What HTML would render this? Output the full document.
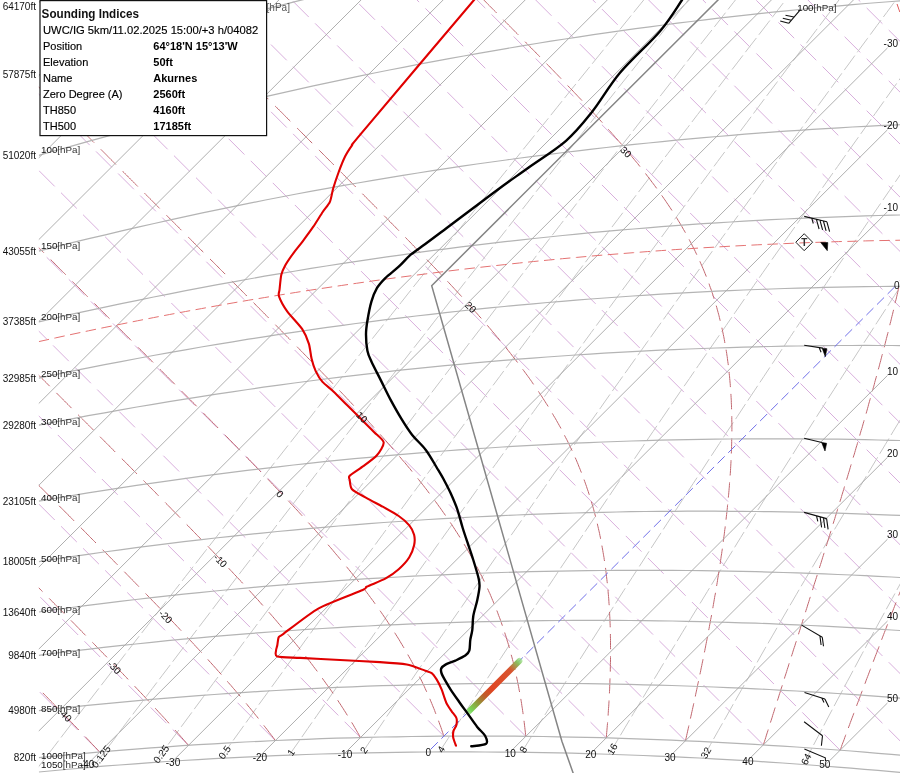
<!DOCTYPE html>
<html><head><meta charset="utf-8"><style>
html,body{margin:0;padding:0;background:#fff;width:900px;height:773px;overflow:hidden}
svg{display:block;font-family:"Liberation Sans",sans-serif;will-change:transform}
</style></head><body>
<svg width="900" height="773" viewBox="0 0 900 773">
<defs><clipPath id="c"><rect x="38.8" y="0" width="870" height="780"/></clipPath><clipPath id="cr"><rect x="38.8" y="0" width="848.7" height="780"/></clipPath><linearGradient id="gr" x1="0" y1="0" x2="1" y2="0"><stop offset="0" stop-color="#8be070" stop-opacity="0.7"/><stop offset="0.07" stop-color="#78d858"/><stop offset="0.2" stop-color="#909a3a"/><stop offset="0.33" stop-color="#c05a2a"/><stop offset="0.45" stop-color="#e04522"/><stop offset="0.8" stop-color="#d85530"/><stop offset="0.93" stop-color="#88c060"/><stop offset="1" stop-color="#90e080" stop-opacity="0.6"/></linearGradient></defs>
<g clip-path="url(#c)">
<g stroke="#d8aedc" stroke-width="1" stroke-dasharray="22.3 8.9"><line x1="-484.8" y1="844.0" x2="-911.6" y2="417.3"/><line x1="-380.0" y1="821.2" x2="-831.4" y2="369.9"/><line x1="-278.5" y1="801.8" x2="-754.5" y2="325.8"/><line x1="-180.0" y1="785.5" x2="-680.7" y2="284.8"/><line x1="-84.3" y1="771.9" x2="-609.7" y2="246.6"/><line x1="8.8" y1="760.8" x2="-541.2" y2="210.9"/><line x1="99.7" y1="752.0" x2="-474.9" y2="177.4"/><line x1="188.5" y1="745.3" x2="-410.8" y2="146.1"/><line x1="275.4" y1="740.6" x2="-348.6" y2="116.7"/><line x1="360.4" y1="737.5" x2="-288.2" y2="89.0"/><line x1="443.9" y1="736.2" x2="-229.4" y2="63.0"/><line x1="525.8" y1="736.3" x2="-172.1" y2="38.5"/><line x1="606.3" y1="737.9" x2="-116.3" y2="15.4"/><line x1="685.4" y1="740.8" x2="-61.7" y2="-6.3"/><line x1="763.4" y1="744.9" x2="-8.5" y2="-26.8"/><line x1="840.1" y1="750.2" x2="43.7" y2="-46.2"/><line x1="904.5" y1="745.3" x2="94.7" y2="-64.5"/><line x1="904.5" y1="678.0" x2="144.7" y2="-81.7"/><line x1="904.5" y1="612.7" x2="193.7" y2="-98.0"/><line x1="904.5" y1="549.2" x2="241.8" y2="-113.4"/><line x1="904.5" y1="487.5" x2="289.1" y2="-127.9"/><line x1="904.5" y1="427.3" x2="335.5" y2="-141.6"/><line x1="904.5" y1="368.8" x2="381.2" y2="-154.5"/><line x1="904.5" y1="311.6" x2="426.1" y2="-166.7"/><line x1="904.5" y1="255.9" x2="470.4" y2="-178.2"/><line x1="904.5" y1="201.6" x2="513.9" y2="-189.0"/><line x1="904.5" y1="148.5" x2="556.8" y2="-199.2"/><line x1="904.5" y1="96.6" x2="599.2" y2="-208.7"/><line x1="904.5" y1="45.8" x2="640.9" y2="-217.8"/><line x1="904.5" y1="-3.8" x2="682.1" y2="-226.2"/><line x1="904.5" y1="-52.4" x2="722.7" y2="-234.1"/><line x1="904.5" y1="-99.9" x2="762.9" y2="-241.5"/></g>
<g fill="none" stroke="#c6c6c6" stroke-width="1" stroke-dasharray="18 4"><polyline points="34.2,772.4 44.3,759.3 54.3,746.3 64.3,733.2 74.4,720.1 84.5,707.0 94.5,694.0 104.6,680.9 114.7,667.8 124.8,654.7 134.9,641.7 145.1,628.6 155.2,615.5 165.3,602.5 175.5,589.4 185.6,576.4 195.8,563.3 206.0,550.2 216.2,537.2 226.4,524.1 236.6,511.1 246.8,498.0 257.0,485.0 267.2,471.9 277.5,458.9 287.7,445.9 298.0,432.8 308.3,419.8 318.5,406.7 328.8,393.7 339.1,380.7 349.4,367.6 359.7,354.6 370.1,341.5 380.4,328.5 390.7,315.5 401.1,302.5 411.4,289.4 421.8,276.4 432.1,263.4 442.5,250.3 452.9,237.3 463.3,224.3 473.7,211.3 484.1,198.3 494.5,185.2 505.0,172.2 515.4,159.2 525.8,146.2 536.3,133.2 546.8,120.2 557.2,107.2 567.7,94.1 578.2,81.1 588.7,68.1 599.2,55.1 609.7,42.1 620.2,29.1 630.7,16.1 641.2,3.1 651.8,-9.9 662.3,-22.9 672.9,-35.9 683.4,-48.9 694.0,-61.9 704.5,-74.9 715.1,-87.9 725.7,-100.9 736.3,-113.9 746.9,-126.9 757.5,-139.9 768.1,-152.9 778.8,-165.8 789.4,-178.8 800.0,-191.8 810.7,-204.8 821.3,-217.8 832.0,-230.8 842.6,-243.8 853.3,-256.8"/><polyline points="93.1,767.1 103.0,754.0 112.9,740.9 122.7,727.7 132.6,714.6 142.5,701.5 152.4,688.4 162.3,675.3 172.3,662.2 182.2,649.1 192.1,636.0 202.1,622.9 212.1,609.8 222.0,596.7 232.0,583.6 242.0,570.5 252.0,557.5 262.1,544.4 272.1,531.3 282.1,518.2 292.2,505.1 302.2,492.1 312.3,479.0 322.4,465.9 332.5,452.8 342.6,439.8 352.7,426.7 362.8,413.6 372.9,400.6 383.0,387.5 393.2,374.4 403.3,361.4 413.5,348.3 423.7,335.3 433.8,322.2 444.0,309.1 454.2,296.1 464.4,283.0 474.7,270.0 484.9,256.9 495.1,243.9 505.4,230.9 515.6,217.8 525.9,204.8 536.1,191.7 546.4,178.7 556.7,165.6 567.0,152.6 577.3,139.6 587.6,126.5 597.9,113.5 608.3,100.5 618.6,87.4 629.0,74.4 639.3,61.4 649.7,48.4 660.1,35.3 670.4,22.3 680.8,9.3 691.2,-3.7 701.6,-16.8 712.0,-29.8 722.5,-42.8 732.9,-55.8 743.3,-68.8 753.8,-81.8 764.2,-94.9 774.7,-107.9 785.1,-120.9 795.6,-133.9 806.1,-146.9 816.6,-159.9 827.1,-172.9 837.6,-185.9 848.1,-198.9 858.6,-211.9 869.2,-224.9 879.7,-237.9 890.3,-250.9 900.8,-263.9"/><polyline points="155.1,762.3 164.7,749.2 174.4,736.0 184.1,722.9 193.8,709.7 203.5,696.6 213.2,683.4 223.0,670.3 232.7,657.2 242.5,644.0 252.2,630.9 262.0,617.8 271.8,604.6 281.6,591.5 291.4,578.4 301.2,565.3 311.1,552.1 320.9,539.0 330.8,525.9 340.6,512.8 350.5,499.7 360.4,486.6 370.3,473.5 380.2,460.4 390.1,447.3 400.1,434.2 410.0,421.1 419.9,408.0 429.9,394.9 439.9,381.8 449.9,368.7 459.8,355.6 469.8,342.5 479.9,329.4 489.9,316.3 499.9,303.2 510.0,290.2 520.0,277.1 530.1,264.0 540.1,250.9 550.2,237.9 560.3,224.8 570.4,211.7 580.5,198.6 590.6,185.6 600.7,172.5 610.9,159.4 621.0,146.4 631.2,133.3 641.3,120.3 651.5,107.2 661.7,94.2 671.9,81.1 682.1,68.0 692.3,55.0 702.5,41.9 712.8,28.9 723.0,15.9 733.2,2.8 743.5,-10.2 753.8,-23.3 764.0,-36.3 774.3,-49.4 784.6,-62.4 794.9,-75.4 805.2,-88.5 815.5,-101.5 825.8,-114.5 836.2,-127.6 846.5,-140.6 856.9,-153.6 867.2,-166.7 877.6,-179.7 888.0,-192.7 898.3,-205.7 908.7,-218.8 919.1,-231.8 929.5,-244.8 939.9,-257.8 950.4,-270.8"/><polyline points="220.3,758.3 229.8,745.1 239.3,731.9 248.8,718.7 258.2,705.5 267.8,692.3 277.3,679.2 286.8,666.0 296.4,652.8 305.9,639.6 315.5,626.4 325.1,613.3 334.7,600.1 344.3,586.9 353.9,573.8 363.5,560.6 373.2,547.4 382.8,534.3 392.5,521.1 402.2,508.0 411.8,494.8 421.6,481.7 431.3,468.5 441.0,455.4 450.7,442.2 460.5,429.1 470.2,416.0 480.0,402.8 489.8,389.7 499.6,376.6 509.4,363.4 519.2,350.3 529.0,337.2 538.9,324.1 548.7,311.0 558.6,297.8 568.4,284.7 578.3,271.6 588.2,258.5 598.1,245.4 608.0,232.3 617.9,219.2 627.9,206.1 637.8,193.0 647.8,179.9 657.7,166.8 667.7,153.7 677.7,140.6 687.7,127.5 697.7,114.4 707.7,101.4 717.7,88.3 727.7,75.2 737.8,62.1 747.8,49.0 757.9,36.0 768.0,22.9 778.0,9.8 788.1,-3.3 798.2,-16.3 808.3,-29.4 818.5,-42.5 828.6,-55.5 838.7,-68.6 848.9,-81.7 859.0,-94.7 869.2,-107.8 879.4,-120.8 889.6,-133.9 899.8,-146.9 910.0,-160.0 920.2,-173.1 930.4,-186.1 940.6,-199.1 950.9,-212.2 961.1,-225.2 971.4,-238.3 981.6,-251.3 991.9,-264.4 1002.2,-277.4"/><polyline points="289.2,755.1 298.5,741.9 307.7,728.6 317.0,715.4 326.2,702.1 335.5,688.9 344.8,675.7 354.1,662.4 363.5,649.2 372.8,636.0 382.2,622.7 391.5,609.5 400.9,596.3 410.3,583.1 419.7,569.9 429.1,556.7 438.6,543.4 448.0,530.2 457.5,517.0 467.0,503.8 476.4,490.6 485.9,477.5 495.5,464.3 505.0,451.1 514.5,437.9 524.1,424.7 533.6,411.5 543.2,398.4 552.8,385.2 562.4,372.0 572.0,358.8 581.6,345.7 591.2,332.5 600.9,319.4 610.5,306.2 620.2,293.0 629.9,279.9 639.6,266.7 649.3,253.6 659.0,240.5 668.7,227.3 678.5,214.2 688.2,201.0 698.0,187.9 707.8,174.8 717.5,161.6 727.3,148.5 737.1,135.4 747.0,122.3 756.8,109.1 766.6,96.0 776.5,82.9 786.3,69.8 796.2,56.7 806.1,43.6 816.0,30.4 825.9,17.3 835.8,4.2 845.7,-8.9 855.7,-22.0 865.6,-35.1 875.6,-48.2 885.5,-61.3 895.5,-74.4 905.5,-87.4 915.5,-100.5 925.5,-113.6 935.5,-126.7 945.5,-139.8 955.6,-152.9 965.6,-165.9 975.7,-179.0 985.7,-192.1 995.8,-205.2 1005.9,-218.3 1016.0,-231.3 1026.1,-244.4 1036.2,-257.5 1046.3,-270.5 1056.4,-283.6"/><polyline points="362.1,753.0 371.1,739.6 380.1,726.3 389.1,713.0 398.1,699.7 407.2,686.4 416.2,673.1 425.3,659.8 434.4,646.5 443.5,633.2 452.6,619.9 461.8,606.7 470.9,593.4 480.1,580.1 489.2,566.8 498.4,553.6 507.6,540.3 516.9,527.0 526.1,513.8 535.3,500.5 544.6,487.3 553.9,474.0 563.2,460.8 572.5,447.6 581.8,434.3 591.1,421.1 600.5,407.9 609.8,394.6 619.2,381.4 628.6,368.2 638.0,355.0 647.4,341.8 656.8,328.6 666.3,315.4 675.7,302.2 685.2,289.0 694.6,275.8 704.1,262.6 713.6,249.4 723.2,236.2 732.7,223.0 742.2,209.8 751.8,196.6 761.3,183.5 770.9,170.3 780.5,157.1 790.1,143.9 799.7,130.8 809.3,117.6 819.0,104.4 828.6,91.3 838.3,78.1 848.0,65.0 857.6,51.8 867.3,38.7 877.0,25.5 886.8,12.4 896.5,-0.8 906.2,-13.9 916.0,-27.0 925.7,-40.2 935.5,-53.3 945.3,-66.4 955.1,-79.6 964.9,-92.7 974.7,-105.8 984.6,-118.9 994.4,-132.0 1004.3,-145.2 1014.1,-158.3 1024.0,-171.4 1033.9,-184.5 1043.8,-197.6 1053.7,-210.7 1063.6,-223.8 1073.5,-236.9 1083.5,-250.0 1093.4,-263.1 1103.4,-276.2 1113.3,-289.3"/><polyline points="439.4,751.9 448.1,738.5 456.8,725.1 465.6,711.8 474.3,698.4 483.1,685.0 491.9,671.6 500.7,658.3 509.5,644.9 518.4,631.5 527.2,618.2 536.1,604.8 545.0,591.5 553.9,578.2 562.8,564.8 571.8,551.5 580.7,538.2 589.7,524.8 598.7,511.5 607.7,498.2 616.7,484.9 625.7,471.6 634.8,458.3 643.8,445.0 652.9,431.7 662.0,418.4 671.1,405.1 680.2,391.8 689.4,378.6 698.5,365.3 707.7,352.0 716.9,338.7 726.1,325.5 735.3,312.2 744.5,298.9 753.7,285.7 763.0,272.4 772.2,259.2 781.5,246.0 790.8,232.7 800.1,219.5 809.4,206.2 818.8,193.0 828.1,179.8 837.5,166.6 846.9,153.3 856.3,140.1 865.7,126.9 875.1,113.7 884.5,100.5 893.9,87.3 903.4,74.1 912.9,60.9 922.3,47.7 931.8,34.5 941.3,21.3 950.8,8.1 960.4,-5.1 969.9,-18.3 979.5,-31.4 989.0,-44.6 998.6,-57.8 1008.2,-71.0 1017.8,-84.1 1027.4,-97.3 1037.1,-110.5 1046.7,-123.6 1056.4,-136.8 1066.0,-149.9 1075.7,-163.1 1085.4,-176.2 1095.1,-189.4 1104.8,-202.5 1114.5,-215.7 1124.2,-228.8 1134.0,-242.0 1143.7,-255.1 1153.5,-268.2 1163.3,-281.4 1173.1,-294.5"/><polyline points="521.6,752.3 530.0,738.8 538.4,725.3 546.8,711.9 555.3,698.4 563.8,684.9 572.3,671.5 580.8,658.0 589.3,644.6 597.9,631.1 606.4,617.7 615.0,604.3 623.6,590.8 632.2,577.4 640.9,564.0 649.5,550.6 658.2,537.2 666.9,523.8 675.6,510.4 684.3,497.0 693.1,483.6 701.9,470.3 710.6,456.9 719.4,443.5 728.2,430.1 737.1,416.8 745.9,403.4 754.8,390.1 763.7,376.7 772.5,363.4 781.5,350.0 790.4,336.7 799.3,323.4 808.3,310.1 817.3,296.7 826.2,283.4 835.2,270.1 844.3,256.8 853.3,243.5 862.4,230.2 871.4,216.9 880.5,203.6 889.6,190.3 898.7,177.0 907.8,163.7 917.0,150.4 926.1,137.2 935.3,123.9 944.5,110.6 953.7,97.4 962.9,84.1 972.1,70.9 981.4,57.6 990.6,44.3 999.9,31.1 1009.2,17.9 1018.5,4.6 1027.8,-8.6 1037.1,-21.9 1046.4,-35.1 1055.8,-48.3 1065.2,-61.5 1074.5,-74.8 1083.9,-88.0 1093.3,-101.2 1102.7,-114.4 1112.2,-127.6 1121.6,-140.8 1131.1,-154.0 1140.5,-167.2 1150.0,-180.4 1159.5,-193.6 1169.0,-206.8 1178.5,-220.0 1188.1,-233.2 1197.6,-246.3 1207.2,-259.5 1216.8,-272.7 1226.3,-285.9 1235.9,-299.0"/><polyline points="609.2,754.3 617.2,740.7 625.3,727.1 633.4,713.5 641.6,700.0 649.7,686.4 657.9,672.9 666.0,659.3 674.3,645.8 682.5,632.2 690.7,618.7 699.0,605.2 707.3,591.6 715.6,578.1 723.9,564.6 732.3,551.1 740.6,537.6 749.0,524.1 757.4,510.7 765.8,497.2 774.3,483.7 782.7,470.2 791.2,456.8 799.7,443.3 808.2,429.9 816.8,416.4 825.3,403.0 833.9,389.6 842.5,376.1 851.1,362.7 859.7,349.3 868.4,335.9 877.0,322.5 885.7,309.1 894.4,295.7 903.1,282.3 911.9,268.9 920.6,255.5 929.4,242.1 938.2,228.8 947.0,215.4 955.8,202.0 964.6,188.7 973.4,175.3 982.3,162.0 991.2,148.6 1000.1,135.3 1009.0,121.9 1017.9,108.6 1026.9,95.3 1035.8,81.9 1044.8,68.6 1053.8,55.3 1062.8,42.0 1071.8,28.7 1080.9,15.4 1089.9,2.1 1099.0,-11.2 1108.1,-24.5 1117.2,-37.8 1126.3,-51.1 1135.4,-64.4 1144.6,-77.7 1153.7,-90.9 1162.9,-104.2 1172.1,-117.5 1181.3,-130.7 1190.5,-144.0 1199.7,-157.2 1209.0,-170.5 1218.2,-183.7 1227.5,-197.0 1236.8,-210.2 1246.1,-223.5 1255.4,-236.7 1264.7,-249.9 1274.1,-263.2 1283.4,-276.4 1292.8,-289.6 1302.2,-302.8"/><polyline points="702.9,758.2 710.5,744.5 718.2,730.8 726.0,717.1 733.7,703.4 741.5,689.7 749.3,676.1 757.1,662.4 764.9,648.7 772.8,635.1 780.7,621.4 788.6,607.8 796.5,594.2 804.5,580.5 812.5,566.9 820.5,553.3 828.5,539.7 836.5,526.1 844.6,512.5 852.7,498.9 860.8,485.4 868.9,471.8 877.1,458.2 885.2,444.7 893.4,431.1 901.6,417.6 909.9,404.1 918.1,390.5 926.4,377.0 934.7,363.5 943.0,350.0 951.3,336.5 959.7,323.0 968.0,309.5 976.4,296.0 984.8,282.5 993.3,269.0 1001.7,255.6 1010.2,242.1 1018.7,228.6 1027.2,215.2 1035.7,201.7 1044.2,188.3 1052.8,174.9 1061.4,161.4 1070.0,148.0 1078.6,134.6 1087.2,121.2 1095.9,107.7 1104.5,94.3 1113.2,80.9 1121.9,67.5 1130.6,54.2 1139.4,40.8 1148.1,27.4 1156.9,14.0 1165.7,0.6 1174.5,-12.7 1183.3,-26.1 1192.1,-39.5 1201.0,-52.8 1209.9,-66.2 1218.7,-79.5 1227.6,-92.9 1236.6,-106.2 1245.5,-119.5 1254.4,-132.9 1263.4,-146.2 1272.4,-159.5 1281.4,-172.8 1290.4,-186.1 1299.4,-199.4 1308.5,-212.7 1317.5,-226.0 1326.6,-239.3 1335.7,-252.6 1344.8,-265.9 1353.9,-279.2 1363.0,-292.5 1372.2,-305.8"/><polyline points="803.4,764.5 810.6,750.6 817.9,736.8 825.2,722.9 832.5,709.1 839.9,695.2 847.3,681.4 854.7,667.6 862.1,653.8 869.5,640.0 877.0,626.2 884.5,612.5 892.1,598.7 899.6,585.0 907.2,571.2 914.8,557.5 922.5,543.7 930.1,530.0 937.8,516.3 945.5,502.6 953.2,488.9 961.0,475.2 968.8,461.5 976.6,447.9 984.4,434.2 992.2,420.5 1000.1,406.9 1008.0,393.2 1015.9,379.6 1023.9,366.0 1031.8,352.3 1039.8,338.7 1047.8,325.1 1055.8,311.5 1063.9,297.9 1071.9,284.3 1080.0,270.8 1088.1,257.2 1096.3,243.6 1104.4,230.1 1112.6,216.5 1120.8,203.0 1129.0,189.4 1137.3,175.9 1145.5,162.4 1153.8,148.8 1162.1,135.3 1170.4,121.8 1178.7,108.3 1187.1,94.8 1195.5,81.3 1203.9,67.8 1212.3,54.4 1220.7,40.9 1229.2,27.4 1237.6,14.0 1246.1,0.5 1254.6,-13.0 1263.2,-26.4 1271.7,-39.8 1280.3,-53.3 1288.8,-66.7 1297.4,-80.1 1306.1,-93.6 1314.7,-107.0 1323.4,-120.4 1332.0,-133.8 1340.7,-147.2 1349.4,-160.6 1358.1,-174.0 1366.9,-187.4 1375.6,-200.7 1384.4,-214.1 1393.2,-227.5 1402.0,-240.9 1410.8,-254.2 1419.7,-267.6 1428.5,-280.9 1437.4,-294.3 1446.3,-307.6"/></g>
<g fill="none" stroke="#c0666e" stroke-width="1"><polyline points="8.8,760.8 7.5,759.4 6.1,758.0 4.7,756.6 3.4,755.2 2.0,753.8 0.6,752.4 -0.7,751.1 -2.1,749.7 -3.4,748.3 -4.8,746.9 -6.2,745.5 -6.2,745.5"/><polyline points="-12.7,738.9 -14.0,737.5 -15.4,736.1 -16.7,734.8 -18.1,733.4 -19.4,732.0 -20.7,730.7 -22.1,729.3 -23.4,728.0 -24.8,726.6 -26.1,725.3 -27.4,723.9 -27.6,723.7"/><polyline points="-34.3,717.0 -35.6,715.6 -36.9,714.3 -38.2,713.0 -39.5,711.6 -40.9,710.3 -42.2,709.0 -43.5,707.7 -44.8,706.3 -46.1,705.0 -47.4,703.7 -48.7,702.4 -49.4,701.7"/><polyline points="-56.1,695.0 -57.4,693.7 -58.6,692.4 -59.9,691.1 -61.2,689.8 -62.5,688.5 -63.8,687.2 -65.1,685.9 -66.3,684.6 -67.6,683.3 -68.9,682.0 -70.2,680.7 -71.0,679.9"/><polyline points="-77.8,673.1 -79.0,671.8 -80.3,670.6 -81.6,669.3 -82.8,668.0 -84.1,666.8 -85.3,665.5 -86.6,664.3 -87.8,663.0 -89.1,661.8 -90.3,660.5 -91.6,659.3 -92.8,658.0 -92.8,658.0"/><polyline points="-99.6,651.2 -100.8,649.9 -102.0,648.7 -103.3,647.5 -104.5,646.2 -105.7,645.0 -106.9,643.8 -108.2,642.6 -109.4,641.4 -110.6,640.1 -111.8,638.9 -113.0,637.7 -114.2,636.5 -114.6,636.1"/><polyline points="-121.4,629.2 -122.6,628.0 -123.8,626.8 -125.0,625.6 -126.2,624.4 -127.4,623.3 -128.6,622.1 -129.8,620.9 -131.0,619.7 -132.1,618.5 -133.3,617.3 -134.5,616.1 -135.7,614.9 -136.5,614.2"/><polyline points="-143.3,607.3 -144.5,606.1 -145.6,605.0 -146.8,603.8 -147.9,602.7 -149.1,601.5 -150.2,600.3 -151.4,599.2 -152.6,598.0 -153.7,596.9 -154.9,595.7 -156.0,594.6 -157.1,593.4 -158.3,592.3 -158.5,592.1"/><polyline points="-165.1,585.4 -166.2,584.3 -167.4,583.2 -168.5,582.0 -169.6,580.9 -170.7,579.8 -171.9,578.7 -173.0,577.5 -174.1,576.4 -175.2,575.3 -176.3,574.2 -177.4,573.0 -178.6,571.9 -179.7,570.8 -180.2,570.3"/><polyline points="-187.0,563.4 -188.1,562.3 -189.2,561.2 -190.3,560.1 -191.4,559.0 -192.5,558.0 -193.6,556.9 -194.7,555.8 -195.8,554.7 -196.8,553.6 -197.9,552.5 -199.0,551.4 -200.1,550.3 -201.2,549.3 -202.1,548.4"/><polyline points="-208.8,541.6 -209.9,540.5 -211.0,539.4 -212.0,538.4 -213.1,537.3 -214.1,536.2 -215.2,535.2 -216.2,534.1 -217.3,533.1 -218.3,532.0 -219.4,531.0 -220.4,529.9 -221.5,528.9 -222.5,527.8 -223.6,526.8 -223.9,526.4"/><polyline points="-230.7,519.7 -231.7,518.6 -232.7,517.6 -233.7,516.6 -234.8,515.5 -235.8,514.5 -236.8,513.5 -237.8,512.5 -238.9,511.4 -239.9,510.4 -240.9,509.4 -241.9,508.4 -242.9,507.4 -243.9,506.4 -244.9,505.3 -245.8,504.5"/><polyline points="-252.6,497.6 -253.6,496.6 -254.6,495.6 -255.6,494.6 -256.6,493.6 -257.6,492.6 -258.6,491.6 -259.6,490.7 -260.6,489.7 -261.5,488.7 -262.5,487.7 -263.5,486.7 -264.5,485.7 -265.5,484.7 -266.4,483.8 -267.4,482.8 -267.6,482.6"/><polyline points="-274.4,475.8 -275.3,474.8 -276.3,473.9 -277.2,472.9 -278.2,472.0 -279.2,471.0 -280.1,470.0 -281.1,469.1 -282.0,468.1 -283.0,467.2 -283.9,466.2 -284.9,465.3 -285.8,464.3 -286.8,463.4 -287.7,462.4 -288.7,461.5 -289.4,460.7"/><polyline points="-296.3,453.8 -297.2,452.9 -298.2,451.9 -299.1,451.0 -300.0,450.1 -300.9,449.1 -301.9,448.2 -302.8,447.3 -303.7,446.4 -304.6,445.5 -305.5,444.5 -306.4,443.6 -307.4,442.7 -308.3,441.8 -309.2,440.9 -310.1,440.0 -311.0,439.0 -311.3,438.7"/><polyline points="-318.1,431.9 -319.0,431.0 -319.9,430.1 -320.8,429.2 -321.6,428.4 -322.5,427.5 -323.4,426.6 -324.3,425.7 -325.2,424.8 -326.1,423.9 -327.0,423.0 -327.9,422.1 -328.7,421.2 -329.6,420.4 -330.5,419.5 -331.4,418.6 -332.2,417.7 -333.1,416.8 -333.1,416.8"/><polyline points="-339.9,410.0 -340.8,409.1 -341.6,408.3 -342.5,407.4 -343.4,406.5 -344.2,405.7 -345.1,404.8 -345.9,404.0 -346.8,403.1 -347.6,402.3 -348.5,401.4 -349.3,400.6 -350.2,399.7 -351.0,398.8 -351.9,398.0 -352.7,397.2 -353.6,396.3 -354.4,395.5 -355.0,394.9"/><polyline points="-361.8,388.1 -362.6,387.2 -363.4,386.4 -364.3,385.6 -365.1,384.7 -365.9,383.9 -366.7,383.1 -367.6,382.2 -368.4,381.4 -369.2,380.6 -370.0,379.8 -370.8,379.0 -371.7,378.1 -372.5,377.3 -373.3,376.5 -374.1,375.7 -374.9,374.9 -375.7,374.1 -376.5,373.3 -376.8,373.0"/><polyline points="-383.6,366.1 -384.4,365.3 -385.2,364.5 -386.0,363.8 -386.8,363.0 -387.6,362.2 -388.4,361.4 -389.1,360.6 -389.9,359.8 -390.7,359.0 -391.5,358.2 -392.3,357.4 -393.1,356.6 -393.9,355.9 -394.6,355.1 -395.4,354.3 -396.2,353.5 -397.0,352.7 -397.7,351.9 -398.5,351.2 -398.6,351.0"/><polyline points="-405.4,344.2 -406.2,343.5 -407.0,342.7 -407.7,341.9 -408.5,341.2 -409.2,340.4 -410.0,339.6 -410.7,338.9 -411.5,338.1 -412.2,337.4 -413.0,336.6 -413.7,335.9 -414.5,335.1 -415.2,334.4 -416.0,333.6 -416.7,332.9 -417.5,332.1 -418.2,331.4 -419.0,330.6 -419.7,329.9 -420.5,329.1 -420.5,329.1"/><polyline points="-427.2,322.4 -427.9,321.6 -428.6,320.9 -429.4,320.2 -430.1,319.4 -430.8,318.7 -431.5,318.0 -432.3,317.3 -433.0,316.5 -433.7,315.8 -434.4,315.1 -435.1,314.4 -435.9,313.7 -436.6,312.9 -437.3,312.2 -438.0,311.5 -438.7,310.8 -439.4,310.1 -440.1,309.4 -440.8,308.6 -441.6,307.9 -442.3,307.2 -442.3,307.2"/><polyline points="-449.0,300.4 -449.7,299.7 -450.4,299.0 -451.1,298.3 -451.8,297.6 -452.5,296.9 -453.2,296.2 -453.9,295.5 -454.6,294.9 -455.3,294.2 -455.9,293.5 -456.6,292.8 -457.3,292.1 -458.0,291.4 -458.7,290.7 -459.4,290.0 -460.0,289.4 -460.7,288.7 -461.4,288.0 -462.1,287.3 -462.7,286.6 -463.4,286.0 -464.1,285.3 -464.1,285.3"/><polyline points="-470.9,278.5 -471.5,277.8 -472.2,277.1 -472.9,276.5 -473.5,275.8 -474.2,275.1 -474.8,274.5 -475.5,273.8 -476.1,273.2 -476.8,272.5 -477.4,271.9 -478.1,271.2 -478.8,270.5 -479.4,269.9 -480.0,269.2 -480.7,268.6 -481.3,267.9 -482.0,267.3 -482.6,266.6 -483.3,266.0 -483.9,265.3 -484.6,264.7 -485.2,264.1 -485.8,263.4 -485.8,263.4"/><polyline points="-492.6,256.6 -493.2,256.0 -493.9,255.4 -494.5,254.7 -495.1,254.1 -495.7,253.5 -496.4,252.8 -497.0,252.2 -497.6,251.6 -498.2,251.0 -498.8,250.3 -499.5,249.7 -500.1,249.1 -500.7,248.5 -501.3,247.9 -501.9,247.2 -502.5,246.6 -503.2,246.0 -503.8,245.4 -504.4,244.8 -505.0,244.2 -505.6,243.5 -506.2,242.9 -506.8,242.3 -507.4,241.7 -507.6,241.5"/><polyline points="-514.4,234.7 -515.0,234.1 -515.6,233.5 -516.2,232.9 -516.8,232.3 -517.4,231.7 -518.0,231.1 -518.6,230.5 -519.2,229.9 -519.8,229.3 -520.3,228.7 -520.9,228.1 -521.5,227.5 -522.1,227.0 -522.7,226.4 -523.3,225.8 -523.8,225.2 -524.4,224.6 -525.0,224.0 -525.6,223.4 -526.2,222.9 -526.7,222.3 -527.3,221.7 -527.9,221.1 -528.5,220.6 -529.0,220.0 -529.4,219.6"/><polyline points="-536.2,212.7 -536.8,212.2 -537.3,211.6 -537.9,211.1 -538.5,210.5 -539.0,209.9 -539.1,209.8"/><polyline points="99.7,752.0 98.3,750.6 96.9,749.1 95.6,747.6 94.2,746.2 92.8,744.7 91.4,743.3 90.0,741.8 88.7,740.3 87.3,738.9 85.9,737.4 85.2,736.7"/><polyline points="78.8,730.0 77.4,728.5 76.0,727.1 74.6,725.7 73.3,724.3 71.9,722.8 70.5,721.4 69.2,720.0 67.8,718.6 66.4,717.1 65.0,715.7 64.1,714.8"/><polyline points="57.5,708.0 56.2,706.6 54.8,705.2 53.4,703.8 52.1,702.4 50.7,701.0 49.4,699.6 48.0,698.2 46.7,696.8 45.3,695.4 44.0,694.1 42.8,692.9"/><polyline points="36.1,686.0 34.8,684.7 33.4,683.3 32.1,681.9 30.8,680.6 29.4,679.2 28.1,677.9 26.7,676.5 25.4,675.2 24.1,673.8 22.8,672.5 21.4,671.1 21.4,671.1"/><polyline points="14.6,664.2 13.3,662.9 12.0,661.5 10.7,660.2 9.3,658.9 8.0,657.5 6.7,656.2 5.4,654.9 4.1,653.6 2.8,652.3 1.5,650.9 0.2,649.6 -0.4,649.0"/><polyline points="-7.1,642.2 -8.4,640.9 -9.7,639.6 -11.0,638.3 -12.3,637.0 -13.5,635.8 -14.8,634.5 -16.1,633.2 -17.4,631.9 -18.7,630.6 -19.9,629.3 -21.2,628.1 -22.0,627.2"/><polyline points="-28.8,620.4 -30.0,619.2 -31.3,617.9 -32.6,616.6 -33.8,615.4 -35.1,614.1 -36.3,612.9 -37.6,611.6 -38.8,610.3 -40.0,609.1 -41.3,607.8 -42.5,606.6 -43.8,605.4 -44.0,605.1"/><polyline points="-50.5,598.5 -51.8,597.3 -53.0,596.1 -54.2,594.9 -55.4,593.6 -56.7,592.4 -57.9,591.2 -59.1,590.0 -60.3,588.7 -61.5,587.5 -62.7,586.3 -63.9,585.1 -65.1,583.9 -65.7,583.3"/><polyline points="-72.5,576.5 -73.7,575.3 -74.9,574.1 -76.1,572.9 -77.3,571.7 -78.5,570.5 -79.7,569.3 -80.9,568.1 -82.0,566.9 -83.2,565.7 -84.4,564.6 -85.6,563.4 -86.7,562.2 -87.5,561.4"/><polyline points="-94.3,554.6 -95.5,553.4 -96.7,552.3 -97.8,551.1 -99.0,549.9 -100.1,548.8 -101.3,547.6 -102.4,546.5 -103.6,545.3 -104.7,544.2 -105.9,543.0 -107.0,541.9 -108.1,540.7 -109.3,539.6 -109.3,539.6"/><polyline points="-116.1,532.8 -117.2,531.6 -118.3,530.5 -119.5,529.4 -120.6,528.2 -121.7,527.1 -122.8,526.0 -123.9,524.9 -125.1,523.8 -126.2,522.6 -127.3,521.5 -128.4,520.4 -129.5,519.3 -130.6,518.2 -131.2,517.6"/><polyline points="-138.0,510.8 -139.0,509.7 -140.1,508.6 -141.2,507.5 -142.3,506.4 -143.4,505.4 -144.5,504.3 -145.6,503.2 -146.7,502.1 -147.7,501.0 -148.8,499.9 -149.9,498.8 -151.0,497.8 -152.0,496.7 -153.1,495.6 -153.1,495.6"/><polyline points="-159.9,488.8 -160.9,487.8 -162.0,486.7 -163.1,485.6 -164.1,484.6 -165.2,483.5 -166.2,482.5 -167.3,481.4 -168.3,480.4 -169.4,479.3 -170.4,478.3 -171.5,477.2 -172.5,476.2 -173.5,475.1 -174.6,474.1 -174.9,473.7"/><polyline points="-181.6,467.0 -182.7,466.0 -183.7,464.9 -184.7,463.9 -185.7,462.9 -186.8,461.9 -187.8,460.8 -188.8,459.8 -189.8,458.8 -190.8,457.8 -191.8,456.8 -192.9,455.7 -193.9,454.7 -194.9,453.7 -195.9,452.7 -196.7,451.9"/><polyline points="-203.5,445.0 -204.5,444.0 -205.5,443.0 -206.5,442.0 -207.5,441.0 -208.5,440.0 -209.5,439.1 -210.5,438.1 -211.5,437.1 -212.4,436.1 -213.4,435.1 -214.4,434.1 -215.4,433.1 -216.3,432.2 -217.3,431.2 -218.3,430.2 -218.6,429.9"/><polyline points="-225.4,423.1 -226.3,422.1 -227.3,421.2 -228.3,420.2 -229.2,419.3 -230.2,418.3 -231.1,417.3 -232.1,416.4 -233.0,415.4 -234.0,414.5 -234.9,413.5 -235.9,412.6 -236.8,411.6 -237.8,410.7 -238.7,409.7 -239.6,408.8 -240.4,408.0"/><polyline points="-247.3,401.1 -248.2,400.2 -249.1,399.3 -250.0,398.4 -251.0,397.4 -251.9,396.5 -252.8,395.6 -253.7,394.7 -254.6,393.7 -255.5,392.8 -256.5,391.9 -257.4,391.0 -258.3,390.1 -259.2,389.2 -260.1,388.3 -261.0,387.3 -261.9,386.4 -262.2,386.1"/><polyline points="-269.1,379.2 -270.0,378.3 -270.9,377.4 -271.8,376.5 -272.7,375.6 -273.6,374.7 -274.4,373.9 -275.3,373.0 -276.2,372.1 -277.1,371.2 -278.0,370.3 -278.9,369.4 -279.7,368.5 -280.6,367.7 -281.5,366.8 -282.4,365.9 -283.2,365.0 -284.1,364.2 -284.1,364.2"/><polyline points="-290.9,357.3 -291.8,356.5 -292.6,355.6 -293.5,354.8 -294.3,353.9 -295.2,353.0 -296.0,352.2 -296.9,351.3 -297.7,350.5 -298.6,349.6 -299.4,348.8 -300.3,347.9 -301.1,347.1 -302.0,346.2 -302.8,345.4 -303.7,344.5 -304.5,343.7 -305.3,342.9 -305.9,342.3"/><polyline points="-312.7,335.5 -313.5,334.6 -314.3,333.8 -315.2,333.0 -316.0,332.2 -316.8,331.3 -317.6,330.5 -318.4,329.7 -319.3,328.9 -320.1,328.0 -320.9,327.2 -321.7,326.4 -322.5,325.6 -323.3,324.8 -324.1,324.0 -324.9,323.2 -325.8,322.3 -326.6,321.5 -327.4,320.7 -327.8,320.3"/><polyline points="-334.6,313.5 -335.4,312.7 -336.1,311.9 -336.9,311.1 -337.7,310.3 -338.5,309.5 -339.3,308.7 -340.1,308.0 -340.9,307.2 -341.7,306.4 -342.4,305.6 -343.2,304.8 -344.0,304.0 -344.8,303.2 -345.5,302.5 -346.3,301.7 -347.1,300.9 -347.9,300.1 -348.6,299.4 -349.4,298.6 -349.5,298.4"/><polyline points="-356.3,291.7 -357.1,290.9 -357.8,290.1 -358.6,289.4 -359.3,288.6 -360.1,287.9 -360.8,287.1 -361.6,286.3 -362.3,285.6 -363.1,284.8 -363.8,284.1 -364.6,283.3 -365.3,282.6 -366.1,281.8 -366.8,281.1 -367.6,280.3 -368.3,279.6 -369.1,278.8 -369.8,278.1 -370.5,277.4 -371.3,276.6 -371.4,276.5"/><polyline points="-378.2,269.6 -379.0,268.9 -379.7,268.2 -380.4,267.4 -381.1,266.7 -381.8,266.0 -382.6,265.3 -383.3,264.6 -384.0,263.8 -384.7,263.1 -385.4,262.4 -386.2,261.7 -386.9,261.0 -387.6,260.2 -388.3,259.5 -389.0,258.8 -389.7,258.1 -390.4,257.4 -391.1,256.7 -391.8,256.0 -392.5,255.3 -393.2,254.6 -393.2,254.6"/><polyline points="-400.0,247.8 -400.7,247.1 -401.4,246.4 -402.1,245.7 -402.8,245.0 -403.4,244.3 -404.1,243.6 -404.8,242.9 -405.5,242.2 -406.2,241.5 -406.9,240.9 -407.5,240.2 -408.2,239.5 -408.9,238.8 -409.6,238.1 -410.3,237.4 -410.9,236.8 -411.6,236.1 -412.3,235.4 -413.0,234.7 -413.6,234.0 -414.3,233.4 -415.0,232.7 -415.1,232.6"/><polyline points="-421.8,225.8 -422.5,225.1 -423.2,224.5 -423.8,223.8 -424.5,223.2 -425.1,222.5 -425.8,221.8 -426.4,221.2 -427.1,220.5 -427.7,219.9 -428.4,219.2 -429.0,218.6 -429.7,217.9 -430.3,217.3 -431.0,216.6 -431.6,216.0 -432.3,215.3 -432.9,214.7 -433.6,214.0 -434.2,213.4 -434.8,212.7 -435.5,212.1 -436.1,211.5 -436.8,210.8 -436.9,210.7"/><polyline points="-443.6,203.9 -444.2,203.3 -444.8,202.7 -445.5,202.1 -446.1,201.4 -446.7,200.8 -447.3,200.2 -447.9,199.6 -448.6,198.9 -449.2,198.3 -449.8,197.7 -450.4,197.1 -451.0,196.5 -451.6,195.8 -452.3,195.2 -452.9,194.6 -453.5,194.0 -454.1,193.4 -454.7,192.8 -455.3,192.2 -455.9,191.5 -456.5,190.9 -457.1,190.3 -457.7,189.7 -458.3,189.1 -458.6,188.8"/><polyline points="-465.4,182.0 -466.0,181.4 -466.6,180.8 -467.2,180.2 -467.8,179.6 -468.4,179.0 -469.0,178.4 -469.5,177.8 -470.1,177.2 -470.7,176.7 -471.3,176.1 -471.6,175.8"/><polyline points="188.5,745.3 187.2,743.8 185.8,742.3 184.5,740.7 183.1,739.2 181.8,737.7 180.4,736.1 179.1,734.6 177.7,733.1 176.4,731.6 175.0,730.1 175.0,730.1"/><polyline points="168.9,723.3 167.6,721.7 166.2,720.2 164.9,718.7 163.5,717.2 162.1,715.7 160.8,714.3 159.4,712.8 158.0,711.3 156.7,709.8 155.3,708.3 155.1,708.1"/><polyline points="148.9,701.4 147.5,699.9 146.2,698.5 144.8,697.0 143.4,695.5 142.1,694.1 140.7,692.6 139.3,691.2 137.9,689.7 136.6,688.3 135.2,686.8 134.5,686.1"/><polyline points="128.1,679.4 126.8,677.9 125.4,676.5 124.0,675.1 122.7,673.6 121.3,672.2 119.9,670.8 118.6,669.3 117.2,667.9 115.8,666.5 114.5,665.1 113.6,664.2"/><polyline points="107.0,657.3 105.6,655.9 104.3,654.5 102.9,653.2 101.6,651.8 100.2,650.4 98.9,649.0 97.5,647.6 96.2,646.2 94.8,644.8 93.5,643.4 92.4,642.3"/><polyline points="85.6,635.4 84.3,634.1 83.0,632.7 81.6,631.3 80.3,630.0 79.0,628.6 77.6,627.2 76.3,625.9 75.0,624.5 73.7,623.2 72.3,621.8 71.0,620.5 70.8,620.3"/><polyline points="64.2,613.6 62.9,612.2 61.6,610.9 60.3,609.6 58.9,608.3 57.6,606.9 56.3,605.6 55.0,604.3 53.7,603.0 52.4,601.7 51.1,600.3 49.8,599.0 49.2,598.4"/><polyline points="42.5,591.6 41.2,590.3 39.9,589.0 38.7,587.7 37.4,586.5 36.1,585.2 34.8,583.9 33.5,582.6 32.3,581.3 31.0,580.0 29.7,578.7 28.4,577.5 27.6,576.6"/><polyline points="20.9,569.8 19.6,568.6 18.4,567.3 17.1,566.0 15.9,564.8 14.6,563.5 13.4,562.3 12.1,561.0 10.9,559.8 9.6,558.5 8.4,557.3 7.1,556.0 5.9,554.8 5.7,554.6"/><polyline points="-1.1,547.8 -2.3,546.5 -3.5,545.3 -4.7,544.1 -6.0,542.9 -7.2,541.6 -8.4,540.4 -9.6,539.2 -10.8,538.0 -12.0,536.8 -13.2,535.5 -14.4,534.3 -15.7,533.1 -16.1,532.7"/><polyline points="-22.8,525.9 -24.0,524.7 -25.2,523.5 -26.4,522.3 -27.6,521.1 -28.8,519.9 -30.0,518.7 -31.2,517.6 -32.3,516.4 -33.5,515.2 -34.7,514.0 -35.9,512.8 -37.0,511.6 -37.8,510.9"/><polyline points="-44.6,504.0 -45.8,502.9 -46.9,501.7 -48.1,500.6 -49.3,499.4 -50.4,498.2 -51.6,497.1 -52.7,495.9 -53.9,494.8 -55.0,493.6 -56.1,492.5 -57.3,491.3 -58.4,490.2 -59.6,489.0 -59.8,488.9"/><polyline points="-66.6,482.0 -67.7,480.9 -68.8,479.8 -69.9,478.7 -71.0,477.5 -72.2,476.4 -73.3,475.3 -74.4,474.2 -75.5,473.0 -76.6,471.9 -77.7,470.8 -78.9,469.7 -80.0,468.6 -81.1,467.5 -81.6,466.9"/><polyline points="-88.4,460.1 -89.5,459.0 -90.6,457.9 -91.7,456.8 -92.8,455.7 -93.8,454.7 -94.9,453.6 -96.0,452.5 -97.1,451.4 -98.2,450.3 -99.3,449.2 -100.3,448.2 -101.4,447.1 -102.5,446.0 -103.4,445.1"/><polyline points="-110.1,438.3 -111.2,437.3 -112.2,436.2 -113.3,435.1 -114.4,434.1 -115.4,433.0 -116.5,432.0 -117.5,430.9 -118.6,429.9 -119.6,428.8 -120.7,427.8 -121.7,426.7 -122.7,425.7 -123.8,424.6 -124.8,423.6 -125.3,423.1"/><polyline points="-132.0,416.3 -133.1,415.3 -134.1,414.3 -135.1,413.2 -136.1,412.2 -137.2,411.2 -138.2,410.2 -139.2,409.2 -140.2,408.1 -141.2,407.1 -142.2,406.1 -143.3,405.1 -144.3,404.1 -145.3,403.1 -146.3,402.1 -147.1,401.2"/><polyline points="-153.9,394.4 -154.9,393.4 -155.9,392.4 -156.9,391.4 -157.9,390.4 -158.9,389.4 -159.9,388.4 -160.9,387.4 -161.8,386.4 -162.8,385.5 -163.8,384.5 -164.8,383.5 -165.8,382.5 -166.7,381.5 -167.7,380.6 -168.7,379.6 -169.0,379.3"/><polyline points="-175.8,372.5 -176.7,371.5 -177.7,370.6 -178.6,369.6 -179.6,368.6 -180.5,367.7 -181.5,366.7 -182.4,365.8 -183.4,364.8 -184.3,363.9 -185.3,362.9 -186.2,362.0 -187.2,361.0 -188.1,360.1 -189.1,359.1 -190.0,358.2 -190.8,357.4"/><polyline points="-197.6,350.5 -198.5,349.6 -199.5,348.7 -200.4,347.8 -201.3,346.8 -202.2,345.9 -203.1,345.0 -204.1,344.1 -205.0,343.1 -205.9,342.2 -206.8,341.3 -207.7,340.4 -208.6,339.5 -209.5,338.6 -210.4,337.7 -211.3,336.8 -212.3,335.8 -212.7,335.4"/><polyline points="-219.4,328.6 -220.3,327.7 -221.2,326.8 -222.1,325.9 -223.0,325.1 -223.9,324.2 -224.8,323.3 -225.7,322.4 -226.5,321.5 -227.4,320.6 -228.3,319.7 -229.2,318.8 -230.1,318.0 -230.9,317.1 -231.8,316.2 -232.7,315.3 -233.6,314.5 -234.4,313.6 -234.4,313.6"/><polyline points="-241.2,306.8 -242.1,305.9 -242.9,305.1 -243.8,304.2 -244.6,303.3 -245.5,302.5 -246.3,301.6 -247.2,300.8 -248.0,299.9 -248.9,299.1 -249.7,298.2 -250.6,297.4 -251.4,296.5 -252.3,295.7 -253.1,294.8 -254.0,294.0 -254.8,293.1 -255.6,292.3 -256.3,291.6"/><polyline points="-263.1,284.8 -263.9,284.0 -264.8,283.1 -265.6,282.3 -266.4,281.5 -267.2,280.6 -268.0,279.8 -268.9,279.0 -269.7,278.2 -270.5,277.4 -271.3,276.5 -272.1,275.7 -272.9,274.9 -273.7,274.1 -274.6,273.3 -275.4,272.5 -276.2,271.7 -277.0,270.9 -277.8,270.1 -278.2,269.6"/><polyline points="-285.0,262.8 -285.8,262.0 -286.5,261.2 -287.3,260.5 -288.1,259.7 -288.9,258.9 -289.7,258.1 -290.5,257.3 -291.3,256.5 -292.0,255.7 -292.8,254.9 -293.6,254.2 -294.4,253.4 -295.2,252.6 -295.9,251.8 -296.7,251.0 -297.5,250.3 -298.3,249.5 -299.0,248.7 -299.8,247.9 -299.9,247.8"/><polyline points="-306.7,241.0 -307.4,240.3 -308.2,239.5 -309.0,238.7 -309.7,238.0 -310.5,237.2 -311.2,236.5 -312.0,235.7 -312.7,235.0 -313.5,234.2 -314.2,233.5 -315.0,232.7 -315.7,232.0 -316.5,231.2 -317.2,230.5 -317.9,229.7 -318.7,229.0 -319.4,228.2 -320.2,227.5 -320.9,226.7 -321.6,226.0 -321.8,225.9"/><polyline points="-328.6,219.0 -329.3,218.3 -330.0,217.6 -330.8,216.8 -331.5,216.1 -332.2,215.4 -332.9,214.7 -333.6,213.9 -334.4,213.2 -335.1,212.5 -335.8,211.8 -336.5,211.1 -337.2,210.4 -337.9,209.6 -338.6,208.9 -339.3,208.2 -340.1,207.5 -340.8,206.8 -341.5,206.1 -342.2,205.4 -342.9,204.7 -343.6,204.0 -343.6,204.0"/><polyline points="-350.3,197.2 -351.0,196.5 -351.7,195.8 -352.4,195.1 -353.1,194.4 -353.8,193.7 -354.5,193.0 -355.1,192.3 -355.8,191.7 -356.5,191.0 -357.2,190.3 -357.9,189.6 -358.5,188.9 -359.2,188.2 -359.9,187.5 -360.6,186.9 -361.3,186.2 -361.9,185.5 -362.6,184.8 -363.3,184.2 -364.0,183.5 -364.6,182.8 -365.3,182.1 -365.4,182.0"/><polyline points="-372.2,175.2 -372.8,174.6 -373.5,173.9 -374.1,173.3 -374.8,172.6 -375.4,171.9 -376.1,171.3 -376.7,170.6 -377.4,170.0 -378.0,169.3 -378.7,168.7 -379.3,168.0 -380.0,167.4 -380.6,166.7 -381.3,166.1 -381.9,165.4 -382.6,164.8 -383.2,164.1 -383.8,163.5 -384.5,162.8 -385.1,162.2 -385.8,161.6 -386.4,160.9 -387.0,160.3 -387.3,160.1"/><polyline points="-394.0,153.3 -394.6,152.7 -395.2,152.0 -395.8,151.4 -396.5,150.8 -397.1,150.2 -397.7,149.5 -398.3,148.9 -398.9,148.3 -399.6,147.7 -400.2,147.1 -400.8,146.4 -401.4,145.8 -402.0,145.2 -402.6,144.6 -403.2,144.0 -403.9,143.4 -404.3,143.0"/><polyline points="275.4,740.6 274.2,738.9 273.0,737.3 271.8,735.7 270.5,734.1 269.3,732.5 268.1,730.9 266.9,729.3 265.7,727.8 264.4,726.2 263.8,725.4"/><polyline points="258.4,718.5 257.2,716.9 255.9,715.4 254.6,713.8 253.4,712.2 252.1,710.7 250.8,709.1 249.5,707.5 248.2,706.0 247.0,704.4 246.1,703.4"/><polyline points="240.3,696.4 239.0,694.9 237.6,693.3 236.3,691.8 235.0,690.2 233.7,688.7 232.4,687.2 231.1,685.6 229.7,684.1 228.4,682.6 227.3,681.3"/><polyline points="221.3,674.5 220.0,673.0 218.6,671.5 217.3,670.0 216.0,668.5 214.6,667.0 213.3,665.5 211.9,664.0 210.6,662.5 209.2,661.0 207.9,659.5 207.7,659.3"/><polyline points="201.6,652.6 200.2,651.1 198.9,649.7 197.5,648.2 196.1,646.7 194.8,645.2 193.4,643.8 192.1,642.3 190.7,640.9 189.4,639.4 188.0,638.0 187.5,637.5"/><polyline points="181.2,630.7 179.8,629.3 178.5,627.8 177.1,626.4 175.8,625.0 174.4,623.5 173.1,622.1 171.7,620.7 170.3,619.3 169.0,617.8 167.6,616.4 166.7,615.5"/><polyline points="160.2,608.6 158.8,607.2 157.5,605.8 156.1,604.4 154.8,603.0 153.4,601.6 152.1,600.2 150.7,598.9 149.4,597.5 148.1,596.1 146.7,594.7 145.6,593.5"/><polyline points="138.9,586.7 137.6,585.3 136.2,583.9 134.9,582.5 133.6,581.2 132.2,579.8 130.9,578.5 129.6,577.1 128.2,575.7 126.9,574.4 125.6,573.0 124.3,571.7 124.3,571.7"/><polyline points="117.5,564.8 116.1,563.4 114.8,562.1 113.5,560.7 112.2,559.4 110.9,558.1 109.6,556.8 108.3,555.4 107.0,554.1 105.7,552.8 104.4,551.5 103.1,550.2 102.6,549.7"/><polyline points="96.0,543.0 94.7,541.7 93.4,540.4 92.1,539.1 90.8,537.8 89.5,536.5 88.3,535.2 87.0,533.9 85.7,532.6 84.4,531.3 83.2,530.0 81.9,528.7 80.8,527.7"/><polyline points="74.1,520.9 72.8,519.6 71.6,518.3 70.3,517.1 69.1,515.8 67.8,514.6 66.6,513.3 65.3,512.0 64.1,510.8 62.8,509.5 61.6,508.3 60.3,507.0 59.1,505.8 59.1,505.8"/><polyline points="52.3,499.0 51.1,497.7 49.9,496.5 48.6,495.3 47.4,494.0 46.2,492.8 45.0,491.6 43.8,490.4 42.5,489.1 41.3,487.9 40.1,486.7 38.9,485.5 37.7,484.3 37.3,483.9"/><polyline points="30.5,477.0 29.3,475.8 28.1,474.6 26.9,473.4 25.7,472.2 24.5,471.1 23.3,469.9 22.1,468.7 21.0,467.5 19.8,466.3 18.6,465.1 17.4,463.9 16.2,462.7 15.5,462.0"/><polyline points="8.8,455.3 7.7,454.1 6.5,453.0 5.4,451.8 4.2,450.7 3.0,449.5 1.9,448.3 0.7,447.2 -0.4,446.0 -1.6,444.9 -2.7,443.7 -3.9,442.6 -5.0,441.4 -6.1,440.3 -6.3,440.1"/><polyline points="-13.2,433.2 -14.3,432.1 -15.4,431.0 -16.5,429.8 -17.7,428.7 -18.8,427.6 -19.9,426.5 -21.0,425.3 -22.1,424.2 -23.3,423.1 -24.4,422.0 -25.5,420.9 -26.6,419.8 -27.7,418.6 -28.3,418.1"/><polyline points="-34.9,411.4 -36.0,410.3 -37.1,409.2 -38.2,408.1 -39.3,407.1 -40.4,406.0 -41.4,404.9 -42.5,403.8 -43.6,402.7 -44.7,401.6 -45.8,400.5 -46.9,399.4 -47.9,398.4 -49.0,397.3 -50.1,396.2 -50.1,396.2"/><polyline points="-56.9,389.4 -57.9,388.3 -59.0,387.3 -60.0,386.2 -61.1,385.1 -62.2,384.1 -63.2,383.0 -64.3,382.0 -65.3,380.9 -66.4,379.9 -67.4,378.8 -68.5,377.8 -69.5,376.7 -70.6,375.7 -71.6,374.6 -71.9,374.3"/><polyline points="-78.7,367.5 -79.7,366.5 -80.7,365.4 -81.8,364.4 -82.8,363.4 -83.8,362.4 -84.8,361.3 -85.9,360.3 -86.9,359.3 -87.9,358.3 -88.9,357.2 -89.9,356.2 -90.9,355.2 -91.9,354.2 -93.0,353.2 -93.8,352.3"/><polyline points="-100.5,345.6 -101.5,344.6 -102.5,343.6 -103.5,342.6 -104.4,341.7 -105.4,340.7 -106.4,339.7 -107.4,338.7 -108.4,337.7 -109.4,336.7 -110.4,335.7 -111.3,334.7 -112.3,333.7 -113.3,332.8 -114.3,331.8 -115.3,330.8 -115.6,330.5"/><polyline points="-122.4,323.7 -123.3,322.7 -124.3,321.7 -125.2,320.8 -126.2,319.8 -127.2,318.9 -128.1,317.9 -129.1,316.9 -130.0,316.0 -131.0,315.0 -131.9,314.1 -132.9,313.1 -133.8,312.2 -134.8,311.2 -135.7,310.3 -136.7,309.3 -137.4,308.5"/><polyline points="-144.1,301.8 -145.1,300.9 -146.0,300.0 -146.9,299.0 -147.9,298.1 -148.8,297.2 -149.7,296.2 -150.6,295.3 -151.5,294.4 -152.5,293.5 -153.4,292.6 -154.3,291.6 -155.2,290.7 -156.1,289.8 -157.0,288.9 -157.9,288.0 -158.8,287.1 -159.3,286.6"/><polyline points="-166.1,279.8 -167.0,278.9 -167.8,278.0 -168.7,277.1 -169.6,276.2 -170.5,275.3 -171.4,274.4 -172.3,273.6 -173.2,272.7 -174.1,271.8 -175.0,270.9 -175.8,270.0 -176.7,269.1 -177.6,268.2 -178.5,267.4 -179.4,266.5 -180.2,265.6 -181.1,264.7 -181.1,264.7"/><polyline points="-187.9,257.9 -188.8,257.0 -189.6,256.2 -190.5,255.3 -191.3,254.4 -192.2,253.6 -193.1,252.7 -193.9,251.9 -194.8,251.0 -195.6,250.1 -196.5,249.3 -197.3,248.4 -198.2,247.6 -199.0,246.7 -199.9,245.9 -200.7,245.0 -201.5,244.2 -202.4,243.3 -202.9,242.8"/><polyline points="-209.6,236.1 -210.5,235.2 -211.3,234.4 -212.1,233.6 -212.9,232.8 -213.8,231.9 -214.6,231.1 -215.4,230.3 -216.2,229.5 -217.0,228.6 -217.9,227.8 -218.7,227.0 -219.5,226.2 -220.3,225.4 -221.1,224.5 -221.9,223.7 -222.7,222.9 -223.5,222.1 -224.4,221.3 -224.8,220.9"/><polyline points="-231.4,214.2 -232.2,213.4 -233.0,212.6 -233.8,211.8 -234.6,211.0 -235.4,210.2 -236.2,209.4 -237.0,208.6 -237.8,207.8 -238.6,207.0 -239.3,206.2 -240.1,205.5 -240.9,204.7 -241.7,203.9 -242.5,203.1 -243.2,202.3 -244.0,201.5 -244.8,200.8 -245.6,200.0 -246.3,199.2 -246.6,198.9"/><polyline points="-253.3,192.3 -254.0,191.5 -254.8,190.7 -255.5,190.0 -256.3,189.2 -257.1,188.4 -257.8,187.7 -258.6,186.9 -259.3,186.2 -260.1,185.4 -260.8,184.7 -261.6,183.9 -262.3,183.1 -263.1,182.4 -263.8,181.6 -264.6,180.9 -265.3,180.2 -266.1,179.4 -266.8,178.7 -267.5,177.9 -268.3,177.2 -268.4,177.0"/><polyline points="-275.1,170.3 -275.9,169.6 -276.6,168.8 -277.3,168.1 -278.0,167.4 -278.8,166.6 -279.5,165.9 -280.2,165.2 -280.9,164.5 -281.6,163.7 -282.4,163.0 -283.1,162.3 -283.8,161.6 -284.5,160.9 -285.2,160.1 -285.9,159.4 -286.7,158.7 -287.4,158.0 -288.1,157.3 -288.8,156.6 -289.5,155.9 -290.2,155.1 -290.2,155.1"/><polyline points="-297.0,148.3 -297.7,147.6 -298.4,146.9 -299.1,146.2 -299.7,145.5 -300.4,144.9 -301.1,144.2 -301.8,143.5 -302.5,142.8 -303.2,142.1 -303.9,141.4 -304.6,140.7 -305.2,140.0 -305.9,139.3 -306.6,138.7 -307.3,138.0 -308.0,137.3 -308.6,136.6 -309.3,135.9 -310.0,135.2 -310.7,134.6 -311.3,133.9 -312.0,133.2 -312.0,133.2"/><polyline points="-318.8,126.4 -319.5,125.7 -320.1,125.1 -320.8,124.4 -321.4,123.7 -322.1,123.1 -322.8,122.4 -323.4,121.8 -324.1,121.1 -324.7,120.4 -325.4,119.8 -326.0,119.1 -326.7,118.5 -327.3,117.8 -328.0,117.2 -328.6,116.5 -329.3,115.9 -329.9,115.2 -330.6,114.6 -331.2,113.9 -331.8,113.3 -332.5,112.6 -333.1,112.0 -333.8,111.4 -333.8,111.4"/><polyline points="360.4,737.5 359.5,735.9 358.6,734.2 357.6,732.5 356.7,730.9 355.7,729.2 354.7,727.5 353.8,725.9 352.8,724.2 351.8,722.6 351.6,722.3"/><polyline points="347.4,715.4 346.4,713.8 345.4,712.1 344.3,710.5 343.3,708.8 342.2,707.2 341.2,705.6 340.1,703.9 339.0,702.3 338.0,700.7 337.6,700.1"/><polyline points="333.0,693.4 331.9,691.7 330.8,690.1 329.7,688.5 328.5,686.9 327.4,685.3 326.2,683.7 325.1,682.1 323.9,680.5 322.8,678.9 322.2,678.1"/><polyline points="317.3,671.4 316.1,669.8 314.9,668.3 313.7,666.7 312.5,665.1 311.3,663.5 310.1,661.9 308.9,660.4 307.6,658.8 306.4,657.2 305.6,656.2"/><polyline points="300.2,649.4 299.0,647.8 297.7,646.3 296.5,644.7 295.2,643.2 293.9,641.6 292.6,640.1 291.4,638.6 290.1,637.0 288.8,635.5 287.7,634.2"/><polyline points="281.9,627.3 280.6,625.8 279.3,624.3 278.0,622.8 276.7,621.2 275.4,619.7 274.1,618.2 272.8,616.7 271.5,615.2 270.2,613.7 268.8,612.2 268.8,612.2"/><polyline points="262.9,605.5 261.5,604.0 260.2,602.5 258.9,601.0 257.6,599.5 256.2,598.1 254.9,596.6 253.5,595.1 252.2,593.6 250.9,592.2 249.5,590.7 249.1,590.2"/><polyline points="242.8,583.4 241.5,581.9 240.1,580.5 238.8,579.0 237.4,577.6 236.1,576.1 234.7,574.7 233.4,573.3 232.1,571.8 230.7,570.4 229.4,569.0 228.7,568.2"/><polyline points="222.4,561.6 221.1,560.2 219.7,558.8 218.4,557.3 217.0,555.9 215.7,554.5 214.3,553.1 213.0,551.7 211.7,550.3 210.3,548.9 209.0,547.5 207.9,546.3"/><polyline points="201.4,539.6 200.1,538.2 198.7,536.9 197.4,535.5 196.0,534.1 194.7,532.7 193.4,531.4 192.1,530.0 190.7,528.6 189.4,527.2 188.1,525.9 186.7,524.5 186.7,524.5"/><polyline points="180.1,517.7 178.8,516.4 177.5,515.0 176.2,513.7 174.9,512.4 173.5,511.0 172.2,509.7 170.9,508.3 169.6,507.0 168.3,505.7 167.0,504.3 165.7,503.0 165.3,502.6"/><polyline points="158.5,495.8 157.2,494.4 156.0,493.1 154.7,491.8 153.4,490.5 152.1,489.2 150.8,487.9 149.5,486.6 148.2,485.3 146.9,484.0 145.7,482.7 144.4,481.4 143.5,480.5"/><polyline points="136.9,473.9 135.7,472.6 134.4,471.3 133.1,470.1 131.9,468.8 130.6,467.5 129.4,466.2 128.1,465.0 126.8,463.7 125.6,462.4 124.3,461.2 123.1,459.9 121.8,458.7 121.8,458.7"/><polyline points="115.2,452.0 114.0,450.7 112.7,449.5 111.5,448.2 110.3,447.0 109.0,445.8 107.8,444.5 106.6,443.3 105.3,442.1 104.1,440.8 102.9,439.6 101.7,438.4 100.4,437.1 100.0,436.7"/><polyline points="93.4,430.0 92.2,428.8 91.0,427.6 89.8,426.4 88.6,425.2 87.4,424.0 86.2,422.8 85.0,421.6 83.8,420.4 82.6,419.2 81.4,418.0 80.2,416.8 79.0,415.6 78.2,414.8"/><polyline points="71.5,408.1 70.3,406.9 69.2,405.7 68.0,404.5 66.8,403.4 65.7,402.2 64.5,401.0 63.3,399.9 62.2,398.7 61.0,397.5 59.9,396.4 58.7,395.2 57.5,394.0 56.4,392.9 56.4,392.9"/><polyline points="49.7,386.2 48.5,385.0 47.4,383.9 46.3,382.7 45.1,381.6 44.0,380.5 42.9,379.3 41.7,378.2 40.6,377.1 39.5,375.9 38.4,374.8 37.2,373.7 36.1,372.5 35.0,371.4 34.6,371.0"/><polyline points="27.9,364.3 26.8,363.2 25.7,362.1 24.6,361.0 23.5,359.9 22.4,358.8 21.3,357.7 20.2,356.6 19.1,355.5 18.0,354.4 16.9,353.3 15.8,352.2 14.7,351.1 13.6,350.0 12.7,349.1"/><polyline points="6.1,342.4 5.0,341.3 3.9,340.2 2.8,339.2 1.8,338.1 0.7,337.0 -0.4,336.0 -1.4,334.9 -2.5,333.8 -3.6,332.8 -4.6,331.7 -5.7,330.6 -6.7,329.6 -7.8,328.5 -8.8,327.4 -9.0,327.3"/><polyline points="-15.8,320.4 -16.9,319.4 -17.9,318.4 -18.9,317.3 -20.0,316.3 -21.0,315.2 -22.1,314.2 -23.1,313.2 -24.1,312.1 -25.1,311.1 -26.2,310.1 -27.2,309.0 -28.2,308.0 -29.2,307.0 -30.3,306.0 -30.9,305.3"/><polyline points="-37.7,298.5 -38.7,297.5 -39.7,296.5 -40.7,295.5 -41.7,294.4 -42.7,293.4 -43.7,292.4 -44.7,291.4 -45.7,290.4 -46.7,289.4 -47.7,288.4 -48.7,287.4 -49.7,286.4 -50.7,285.5 -51.7,284.5 -52.7,283.5 -52.8,283.3"/><polyline points="-59.5,276.6 -60.5,275.6 -61.5,274.6 -62.5,273.7 -63.4,272.7 -64.4,271.7 -65.4,270.7 -66.3,269.8 -67.3,268.8 -68.3,267.8 -69.2,266.9 -70.2,265.9 -71.1,264.9 -72.1,264.0 -73.0,263.0 -74.0,262.1 -74.6,261.4"/><polyline points="-81.4,254.6 -82.4,253.7 -83.3,252.7 -84.2,251.8 -85.2,250.8 -86.1,249.9 -87.0,249.0 -88.0,248.0 -88.9,247.1 -89.8,246.2 -90.8,245.2 -91.7,244.3 -92.6,243.4 -93.5,242.4 -94.5,241.5 -95.4,240.6 -96.3,239.7 -96.5,239.5"/><polyline points="-103.2,232.8 -104.1,231.9 -105.0,231.0 -105.9,230.1 -106.8,229.2 -107.7,228.3 -108.6,227.3 -109.5,226.4 -110.4,225.5 -111.3,224.6 -112.2,223.7 -113.1,222.8 -114.0,221.9 -114.9,221.1 -115.8,220.2 -116.6,219.3 -117.5,218.4 -118.3,217.6"/><polyline points="-125.0,210.9 -125.9,210.0 -126.8,209.1 -127.6,208.2 -128.5,207.4 -129.4,206.5 -130.2,205.6 -131.1,204.7 -132.0,203.9 -132.8,203.0 -133.7,202.1 -134.6,201.3 -135.4,200.4 -136.3,199.6 -137.1,198.7 -138.0,197.8 -138.8,197.0 -139.7,196.1 -140.1,195.7"/><polyline points="-146.9,188.9 -147.7,188.0 -148.6,187.2 -149.4,186.4 -150.3,185.5 -151.1,184.7 -151.9,183.8 -152.8,183.0 -153.6,182.2 -154.4,181.3 -155.2,180.5 -156.1,179.7 -156.9,178.8 -157.7,178.0 -158.6,177.2 -159.4,176.4 -160.2,175.5 -161.0,174.7 -161.8,173.9 -162.0,173.8"/><polyline points="-168.7,166.9 -169.6,166.1 -170.4,165.3 -171.2,164.5 -172.0,163.7 -172.8,162.9 -173.6,162.1 -174.4,161.3 -175.2,160.5 -176.0,159.7 -176.8,158.9 -177.6,158.1 -178.4,157.3 -179.1,156.5 -179.9,155.7 -180.7,154.9 -181.5,154.1 -182.3,153.3 -183.1,152.5 -183.7,151.9"/><polyline points="-190.5,145.1 -191.3,144.3 -192.1,143.5 -192.8,142.8 -193.6,142.0 -194.4,141.2 -195.1,140.5 -195.9,139.7 -196.7,138.9 -197.4,138.1 -198.2,137.4 -199.0,136.6 -199.7,135.8 -200.5,135.1 -201.2,134.3 -202.0,133.6 -202.7,132.8 -203.5,132.0 -204.3,131.3 -205.0,130.5 -205.6,129.9"/><polyline points="-212.3,123.2 -213.1,122.4 -213.8,121.7 -214.6,120.9 -215.3,120.2 -216.0,119.4 -216.8,118.7 -217.5,118.0 -218.2,117.2 -219.0,116.5 -219.7,115.8 -220.4,115.0 -221.2,114.3 -221.9,113.6 -222.6,112.8 -223.3,112.1 -224.1,111.4 -224.8,110.7 -225.5,109.9 -226.2,109.2 -226.9,108.5 -227.4,108.0"/><polyline points="-234.2,101.2 -234.9,100.5 -235.6,99.8 -236.3,99.1 -237.0,98.4 -237.7,97.7 -238.4,97.0 -239.1,96.3 -239.8,95.6 -240.5,94.9 -241.2,94.2 -241.9,93.5 -242.6,92.8 -243.3,92.1 -244.0,91.4 -244.7,90.7 -245.4,90.0 -246.1,89.3 -246.8,88.6 -247.4,87.9 -248.1,87.2 -248.8,86.5 -249.3,86.1"/><polyline points="-255.9,79.3 -256.6,78.7 -257.3,78.0 -258.0,77.3 -258.6,76.6 -259.2,76.1"/><polyline points="443.9,736.2 443.3,734.4 442.7,732.7 442.1,731.0 441.6,729.3 441.0,727.6 440.4,725.8 439.7,724.1 439.1,722.4 438.5,720.7 438.5,720.7"/><polyline points="435.9,713.9 435.2,712.2 434.6,710.4 433.9,708.7 433.2,707.0 432.5,705.3 431.8,703.6 431.1,701.9 430.4,700.2 429.8,698.8"/><polyline points="426.7,691.8 425.9,690.1 425.1,688.4 424.4,686.7 423.6,685.0 422.8,683.4 422.0,681.7 421.2,680.0 420.3,678.3 419.5,676.7 419.5,676.7"/><polyline points="416.0,669.7 415.1,668.0 414.2,666.4 413.4,664.7 412.5,663.0 411.6,661.4 410.7,659.7 409.8,658.1 408.8,656.4 407.9,654.8 407.8,654.5"/><polyline points="404.0,647.9 403.0,646.3 402.0,644.6 401.0,643.0 400.1,641.4 399.1,639.7 398.1,638.1 397.1,636.5 396.0,634.8 395.0,633.2 394.7,632.7"/><polyline points="390.2,625.7 389.1,624.0 388.0,622.4 387.0,620.8 385.9,619.2 384.8,617.6 383.7,616.0 382.6,614.4 381.5,612.8 380.4,611.2 380.0,610.7"/><polyline points="375.1,603.8 374.0,602.2 372.8,600.6 371.7,599.1 370.5,597.5 369.3,595.9 368.2,594.3 367.0,592.8 365.8,591.2 364.6,589.6 363.8,588.6"/><polyline points="358.6,581.8 357.4,580.3 356.2,578.7 355.0,577.2 353.7,575.6 352.5,574.1 351.3,572.6 350.0,571.0 348.8,569.5 347.5,567.9 346.5,566.7"/><polyline points="340.8,559.8 339.5,558.3 338.3,556.8 337.0,555.3 335.7,553.8 334.4,552.2 333.2,550.7 331.9,549.2 330.6,547.7 329.3,546.2 328.0,544.7 328.0,544.7"/><polyline points="321.9,537.8 320.6,536.3 319.3,534.8 318.0,533.3 316.7,531.9 315.4,530.4 314.1,528.9 312.7,527.4 311.4,526.0 310.1,524.5 308.8,523.1 308.3,522.6"/><polyline points="302.2,515.8 300.8,514.3 299.5,512.9 298.2,511.4 296.9,510.0 295.5,508.6 294.2,507.1 292.9,505.7 291.5,504.3 290.2,502.8 288.9,501.4 288.2,500.7"/><polyline points="281.8,493.8 280.4,492.4 279.1,491.0 277.8,489.6 276.4,488.2 275.1,486.8 273.8,485.4 272.4,484.0 271.1,482.6 269.8,481.2 268.5,479.8 267.6,478.9"/><polyline points="260.9,471.9 259.6,470.6 258.3,469.2 257.0,467.8 255.6,466.5 254.3,465.1 253.0,463.7 251.7,462.3 250.3,461.0 249.0,459.6 247.7,458.3 246.4,456.9 246.4,456.9"/><polyline points="239.8,450.2 238.5,448.8 237.2,447.5 235.9,446.1 234.6,444.8 233.3,443.5 232.0,442.1 230.7,440.8 229.4,439.5 228.1,438.1 226.8,436.8 225.5,435.5 224.8,434.8"/><polyline points="218.1,428.0 216.9,426.7 215.6,425.4 214.3,424.1 213.0,422.8 211.7,421.5 210.4,420.2 209.2,418.9 207.9,417.6 206.6,416.3 205.3,415.1 204.1,413.8 203.2,412.9"/><polyline points="196.7,406.3 195.4,405.0 194.2,403.7 192.9,402.5 191.6,401.2 190.4,399.9 189.1,398.7 187.9,397.4 186.6,396.1 185.4,394.9 184.1,393.6 182.9,392.4 181.6,391.1 181.6,391.1"/><polyline points="174.8,384.3 173.6,383.0 172.4,381.8 171.1,380.5 169.9,379.3 168.7,378.1 167.5,376.9 166.2,375.6 165.0,374.4 163.8,373.2 162.6,371.9 161.4,370.7 160.2,369.5 159.8,369.1"/><polyline points="153.1,362.4 151.9,361.2 150.7,360.0 149.5,358.8 148.3,357.6 147.1,356.4 145.9,355.2 144.8,354.0 143.6,352.8 142.4,351.6 141.2,350.4 140.0,349.3 138.8,348.1 138.0,347.3"/><polyline points="131.2,340.4 130.0,339.2 128.9,338.1 127.7,336.9 126.5,335.7 125.4,334.5 124.2,333.4 123.0,332.2 121.9,331.1 120.7,329.9 119.6,328.7 118.4,327.6 117.3,326.4 116.1,325.3 116.1,325.3"/><polyline points="109.5,318.6 108.3,317.5 107.2,316.3 106.1,315.2 104.9,314.1 103.8,312.9 102.7,311.8 101.6,310.7 100.4,309.5 99.3,308.4 98.2,307.3 97.1,306.2 96.0,305.0 94.8,303.9 94.3,303.4"/><polyline points="87.6,296.7 86.5,295.6 85.4,294.5 84.3,293.4 83.2,292.3 82.1,291.2 81.0,290.1 80.0,289.0 78.9,287.9 77.8,286.8 76.7,285.7 75.6,284.6 74.5,283.5 73.4,282.4 72.5,281.5"/><polyline points="65.7,274.7 64.7,273.6 63.6,272.6 62.5,271.5 61.5,270.4 60.4,269.4 59.3,268.3 58.3,267.2 57.2,266.2 56.2,265.1 55.1,264.1 54.1,263.0 53.0,261.9 52.0,260.9 50.9,259.8 50.6,259.5"/><polyline points="43.8,252.7 42.8,251.7 41.7,250.6 40.7,249.6 39.7,248.6 38.6,247.5 37.6,246.5 36.6,245.5 35.6,244.4 34.5,243.4 33.5,242.4 32.5,241.4 31.5,240.3 30.5,239.3 29.4,238.3 28.8,237.6"/><polyline points="22.0,230.9 21.0,229.9 20.0,228.9 19.0,227.9 18.0,226.9 17.0,225.9 16.1,224.9 15.1,223.9 14.1,222.9 13.1,221.9 12.1,220.9 11.1,219.9 10.1,218.9 9.1,217.9 8.2,216.9 7.2,216.0 7.0,215.8"/><polyline points="0.2,208.9 -0.8,208.0 -1.8,207.0 -2.7,206.0 -3.7,205.1 -4.6,204.1 -5.6,203.1 -6.6,202.2 -7.5,201.2 -8.5,200.2 -9.4,199.3 -10.4,198.3 -11.3,197.4 -12.3,196.4 -13.2,195.5 -14.2,194.5 -14.8,193.9"/><polyline points="-21.7,187.0 -22.7,186.0 -23.6,185.1 -24.5,184.1 -25.5,183.2 -26.4,182.3 -27.3,181.4 -28.2,180.4 -29.2,179.5 -30.1,178.6 -31.0,177.6 -31.9,176.7 -32.8,175.8 -33.8,174.9 -34.7,174.0 -35.6,173.0 -36.5,172.1 -36.7,172.0"/><polyline points="-43.5,165.1 -44.4,164.2 -45.3,163.3 -46.2,162.4 -47.1,161.5 -48.0,160.6 -48.9,159.7 -49.8,158.8 -50.6,157.9 -51.5,157.0 -52.4,156.1 -53.3,155.2 -54.2,154.4 -55.1,153.5 -56.0,152.6 -56.9,151.7 -57.7,150.8 -58.6,149.9 -58.6,149.9"/><polyline points="-65.3,143.2 -66.2,142.3 -67.0,141.5 -67.9,140.6 -68.8,139.7 -69.6,138.9 -70.5,138.0 -71.4,137.1 -72.2,136.3 -73.1,135.4 -73.9,134.5 -74.8,133.7 -75.6,132.8 -76.5,132.0 -77.3,131.1 -78.2,130.3 -79.0,129.4 -79.9,128.6 -80.5,128.0"/><polyline points="-87.2,121.2 -88.0,120.4 -88.8,119.6 -89.7,118.7 -90.5,117.9 -91.3,117.1 -92.2,116.2 -93.0,115.4 -93.8,114.6 -94.6,113.8 -95.5,112.9 -96.3,112.1 -97.1,111.3 -97.9,110.5 -98.8,109.6 -99.6,108.8 -100.4,108.0 -101.2,107.2 -102.0,106.4 -102.3,106.1"/><polyline points="-109.0,99.3 -109.8,98.5 -110.6,97.7 -111.4,96.9 -112.2,96.1 -113.0,95.3 -113.8,94.5 -114.6,93.7 -115.4,92.9 -116.2,92.1 -117.0,91.3 -117.8,90.5 -118.5,89.8 -119.3,89.0 -120.1,88.2 -120.9,87.4 -121.7,86.6 -122.5,85.8 -123.2,85.0 -124.0,84.3 -124.0,84.3"/><polyline points="-130.9,77.4 -131.6,76.6 -132.4,75.8 -133.2,75.1 -133.9,74.3 -134.7,73.5 -135.4,72.8 -136.2,72.0 -137.0,71.3 -137.7,70.5 -138.5,69.7 -139.2,69.0 -140.0,68.2 -140.7,67.5 -141.5,66.7 -142.2,65.9 -143.0,65.2 -143.7,64.4 -144.5,63.7 -145.2,62.9 -145.9,62.3"/><polyline points="-152.6,55.5 -153.4,54.8 -154.1,54.0 -154.8,53.3 -155.6,52.6 -156.3,51.8 -157.0,51.1 -157.8,50.4 -158.5,49.6 -159.2,48.9 -159.9,48.2 -160.7,47.4 -161.4,46.7 -162.1,46.0 -162.8,45.3 -163.5,44.6 -164.3,43.8 -165.0,43.1 -165.7,42.4 -166.4,41.7 -167.1,41.0 -167.7,40.4"/><polyline points="525.8,736.3 525.6,734.6 525.4,732.8 525.2,731.0 525.0,729.3 524.8,727.5 524.6,725.8 524.4,724.0 524.2,722.3 524.0,720.8"/><polyline points="523.1,714.1 522.9,712.3 522.6,710.6 522.4,708.8 522.1,707.1 521.8,705.3 521.6,703.6 521.3,701.8 521.0,700.1 520.8,698.9"/><polyline points="519.6,692.0 519.2,690.2 518.9,688.5 518.6,686.7 518.2,685.0 517.9,683.3 517.5,681.5 517.2,679.8 516.8,678.1 516.5,676.6"/><polyline points="515.0,670.0 514.6,668.3 514.2,666.5 513.8,664.8 513.4,663.1 513.0,661.4 512.5,659.6 512.1,657.9 511.6,656.2 511.2,654.8"/><polyline points="509.4,647.9 508.9,646.2 508.4,644.5 507.9,642.8 507.3,641.1 506.8,639.3 506.3,637.6 505.8,635.9 505.2,634.2 504.7,632.5 504.7,632.5"/><polyline points="502.4,625.7 501.8,624.0 501.2,622.3 500.6,620.6 500.0,618.9 499.4,617.3 498.7,615.6 498.1,613.9 497.5,612.2 496.8,610.5 496.8,610.5"/><polyline points="494.1,603.8 493.4,602.1 492.7,600.4 492.0,598.8 491.3,597.1 490.6,595.4 489.9,593.7 489.1,592.1 488.4,590.4 487.6,588.7 487.5,588.5"/><polyline points="484.3,581.5 483.5,579.9 482.7,578.2 481.9,576.6 481.0,574.9 480.2,573.3 479.4,571.6 478.5,570.0 477.7,568.4 476.8,566.7 476.7,566.4"/><polyline points="473.0,559.6 472.1,558.0 471.2,556.4 470.3,554.7 469.3,553.1 468.4,551.5 467.5,549.9 466.5,548.2 465.6,546.6 464.6,545.0 464.1,544.2"/><polyline points="460.0,537.5 459.0,535.9 458.0,534.3 457.0,532.7 455.9,531.1 454.9,529.5 453.9,527.9 452.8,526.3 451.8,524.7 450.7,523.1 450.2,522.4"/><polyline points="445.5,515.5 444.4,513.9 443.3,512.4 442.2,510.8 441.1,509.2 440.0,507.7 438.8,506.1 437.7,504.5 436.6,503.0 435.4,501.4 434.7,500.4"/><polyline points="429.4,493.4 428.2,491.9 427.1,490.3 425.9,488.8 424.7,487.3 423.5,485.7 422.3,484.2 421.1,482.7 419.9,481.2 418.7,479.6 417.7,478.4"/><polyline points="412.1,471.6 410.9,470.0 409.7,468.5 408.4,467.0 407.2,465.5 405.9,464.0 404.7,462.5 403.4,461.1 402.1,459.6 400.9,458.1 399.6,456.6 399.4,456.3"/><polyline points="393.4,449.4 392.2,448.0 390.9,446.5 389.6,445.0 388.3,443.6 387.0,442.1 385.7,440.6 384.4,439.2 383.1,437.7 381.8,436.3 380.5,434.8 380.1,434.3"/><polyline points="374.0,427.6 372.7,426.2 371.4,424.7 370.1,423.3 368.8,421.9 367.5,420.4 366.2,419.0 364.9,417.6 363.6,416.2 362.2,414.8 360.9,413.3 360.1,412.4"/><polyline points="353.7,405.6 352.4,404.2 351.1,402.8 349.8,401.4 348.4,400.0 347.1,398.6 345.8,397.2 344.5,395.8 343.2,394.4 341.9,393.1 340.6,391.7 339.5,390.5"/><polyline points="332.9,383.7 331.6,382.3 330.3,380.9 329.0,379.6 327.7,378.2 326.4,376.9 325.0,375.5 323.7,374.2 322.4,372.8 321.1,371.5 319.8,370.1 318.5,368.8 318.3,368.5"/><polyline points="311.8,361.9 310.5,360.5 309.2,359.2 307.9,357.9 306.6,356.5 305.3,355.2 304.0,353.9 302.8,352.6 301.5,351.3 300.2,350.0 298.9,348.6 297.6,347.3 297.0,346.7"/><polyline points="290.4,339.9 289.1,338.6 287.8,337.4 286.5,336.1 285.3,334.8 284.0,333.5 282.7,332.2 281.5,330.9 280.2,329.6 278.9,328.3 277.7,327.1 276.4,325.8 275.4,324.7"/><polyline points="268.7,318.0 267.4,316.7 266.2,315.4 264.9,314.2 263.7,312.9 262.4,311.7 261.2,310.4 260.0,309.2 258.7,307.9 257.5,306.7 256.3,305.4 255.0,304.2 253.8,303.0 253.6,302.7"/><polyline points="246.8,296.0 245.6,294.7 244.4,293.5 243.2,292.3 242.0,291.1 240.8,289.8 239.6,288.6 238.3,287.4 237.1,286.2 235.9,285.0 234.7,283.8 233.5,282.6 232.3,281.3 231.9,280.9"/><polyline points="225.2,274.1 224.0,272.9 222.8,271.8 221.6,270.6 220.4,269.4 219.2,268.2 218.1,267.0 216.9,265.8 215.7,264.6 214.5,263.5 213.4,262.3 212.2,261.1 211.0,259.9 210.0,259.0"/><polyline points="203.3,252.1 202.1,251.0 200.9,249.8 199.8,248.7 198.6,247.5 197.5,246.4 196.3,245.2 195.2,244.1 194.1,242.9 192.9,241.8 191.8,240.6 190.6,239.5 189.5,238.3 188.4,237.2 188.2,237.0"/><polyline points="181.4,230.2 180.3,229.1 179.2,228.0 178.0,226.8 176.9,225.7 175.8,224.6 174.7,223.5 173.6,222.4 172.5,221.2 171.4,220.1 170.2,219.0 169.1,217.9 168.0,216.8 166.9,215.7 166.4,215.1"/><polyline points="159.6,208.4 158.5,207.3 157.5,206.2 156.4,205.1 155.3,204.0 154.2,202.9 153.1,201.8 152.0,200.7 151.0,199.7 149.9,198.6 148.8,197.5 147.7,196.4 146.7,195.3 145.6,194.3 144.5,193.2 144.5,193.2"/><polyline points="137.8,186.5 136.7,185.4 135.7,184.3 134.6,183.3 133.6,182.2 132.5,181.2 131.5,180.1 130.4,179.1 129.4,178.0 128.3,177.0 127.3,175.9 126.3,174.9 125.2,173.8 124.2,172.8 123.1,171.8 122.6,171.2"/><polyline points="115.9,164.5 114.9,163.5 113.9,162.5 112.9,161.5 111.9,160.4 110.8,159.4 109.8,158.4 108.8,157.4 107.8,156.4 106.8,155.3 105.8,154.3 104.8,153.3 103.8,152.3 102.8,151.3 101.8,150.3 100.8,149.3 100.8,149.3"/><polyline points="94.1,142.6 93.1,141.6 92.1,140.7 91.2,139.7 90.2,138.7 89.2,137.7 88.2,136.7 87.2,135.7 86.2,134.7 85.3,133.8 84.3,132.8 83.3,131.8 82.3,130.8 81.4,129.8 80.4,128.9 79.4,127.9 79.0,127.4"/><polyline points="72.2,120.7 71.3,119.7 70.3,118.7 69.4,117.8 68.4,116.8 67.5,115.9 66.5,114.9 65.6,114.0 64.6,113.0 63.7,112.1 62.7,111.1 61.8,110.2 60.8,109.2 59.9,108.3 59.0,107.4 58.0,106.4 57.1,105.5 57.1,105.5"/><polyline points="50.4,98.8 49.5,97.9 48.6,96.9 47.7,96.0 46.8,95.1 45.8,94.2 44.9,93.3 44.0,92.3 43.1,91.4 42.2,90.5 41.3,89.6 40.4,88.7 39.5,87.8 38.6,86.9 37.7,86.0 36.8,85.1 35.8,84.2 35.2,83.5"/><polyline points="28.5,76.8 27.6,75.9 26.8,75.0 25.9,74.1 25.0,73.3 24.1,72.4 23.2,71.5 22.3,70.6 21.5,69.7 20.6,68.8 19.7,67.9 18.8,67.1 18.0,66.2 17.1,65.3 16.2,64.4 15.3,63.6 14.5,62.7 13.6,61.8 13.5,61.7"/><polyline points="6.7,54.9 5.9,54.0 5.0,53.2 4.2,52.3 3.3,51.5 2.4,50.6 1.6,49.8 0.8,48.9 -0.1,48.1 -0.9,47.2 -1.8,46.4 -2.6,45.5 -3.5,44.7 -4.3,43.8 -5.1,43.0 -6.0,42.2 -6.8,41.3 -7.7,40.5 -8.3,39.8"/><polyline points="-15.1,33.0 -15.9,32.2 -16.8,31.3 -17.6,30.5 -18.4,29.7 -19.2,28.9 -20.0,28.1 -20.8,27.2 -21.7,26.4 -22.5,25.6 -23.3,24.8 -24.1,24.0 -24.9,23.2 -25.7,22.4 -26.5,21.5 -27.3,20.7 -28.1,19.9 -28.9,19.1 -29.7,18.3 -30.1,17.9"/><polyline points="-37.0,11.0 -37.8,10.2 -38.6,9.4 -39.4,8.6 -40.1,7.8 -40.9,7.1 -41.7,6.3 -42.5,5.5 -43.3,4.7 -44.1,3.9 -44.8,3.1 -45.6,2.4 -46.4,1.6 -47.2,0.8 -47.9,0.0 -48.7,-0.7 -49.5,-1.5 -50.2,-2.3 -51.0,-3.1 -51.8,-3.8 -52.0,-4.1"/><polyline points="606.3,737.9 606.4,736.1 606.6,734.3 606.7,732.5 606.9,730.8 607.0,729.0 607.2,727.2 607.3,725.4 607.5,723.6 607.6,722.4"/><polyline points="608.1,715.6 608.2,713.8 608.3,712.1 608.4,710.3 608.5,708.5 608.7,706.7 608.8,704.9 608.9,703.2 609.0,701.4 609.0,700.5"/><polyline points="609.4,693.4 609.5,691.6 609.6,689.9 609.7,688.1 609.7,686.3 609.8,684.5 609.9,682.8 609.9,681.0 610.0,679.2 610.0,678.4"/><polyline points="610.3,671.6 610.3,669.8 610.3,668.0 610.4,666.3 610.4,664.5 610.4,662.7 610.5,661.0 610.5,659.2 610.5,657.5 610.5,656.3"/><polyline points="610.6,649.2 610.5,647.5 610.5,645.7 610.5,644.0 610.5,642.2 610.5,640.5 610.5,638.7 610.4,636.9 610.4,635.2 610.4,634.0"/><polyline points="610.2,627.3 610.2,625.6 610.1,623.8 610.0,622.1 610.0,620.3 609.9,618.6 609.8,616.8 609.7,615.1 609.6,613.3 609.6,611.9"/><polyline points="609.2,605.2 609.0,603.4 608.9,601.7 608.8,600.0 608.7,598.2 608.5,596.5 608.4,594.8 608.2,593.0 608.1,591.3 608.0,589.8"/><polyline points="607.3,583.2 607.1,581.5 606.9,579.7 606.7,578.0 606.5,576.3 606.3,574.5 606.1,572.8 605.9,571.1 605.7,569.4 605.5,567.9"/><polyline points="604.5,561.0 604.2,559.3 604.0,557.6 603.7,555.9 603.4,554.2 603.1,552.5 602.8,550.7 602.5,549.0 602.2,547.3 601.9,545.6 601.9,545.6"/><polyline points="600.6,538.8 600.3,537.1 599.9,535.4 599.6,533.6 599.2,531.9 598.8,530.2 598.4,528.5 598.0,526.8 597.6,525.1 597.3,523.7"/><polyline points="595.6,516.7 595.1,515.0 594.7,513.3 594.2,511.6 593.8,509.9 593.3,508.2 592.8,506.5 592.3,504.9 591.8,503.2 591.3,501.5 591.3,501.5"/><polyline points="589.3,494.8 588.7,493.1 588.2,491.4 587.6,489.8 587.0,488.1 586.5,486.4 585.9,484.8 585.3,483.1 584.7,481.4 584.1,479.8 584.0,479.5"/><polyline points="581.4,472.6 580.7,470.9 580.1,469.3 579.4,467.6 578.7,466.0 578.1,464.3 577.4,462.7 576.7,461.0 576.0,459.4 575.3,457.8 575.1,457.5"/><polyline points="572.1,450.7 571.3,449.0 570.5,447.4 569.8,445.8 569.0,444.2 568.2,442.5 567.4,440.9 566.6,439.3 565.7,437.7 564.9,436.1 564.5,435.3"/><polyline points="561.0,428.5 560.1,426.9 559.2,425.3 558.3,423.7 557.4,422.1 556.5,420.5 555.6,418.9 554.7,417.4 553.7,415.8 552.8,414.2 552.3,413.4"/><polyline points="548.2,406.5 547.2,404.9 546.2,403.4 545.2,401.8 544.2,400.2 543.2,398.7 542.2,397.1 541.2,395.5 540.1,394.0 539.1,392.4 538.4,391.4"/><polyline points="533.6,384.4 532.5,382.9 531.5,381.3 530.4,379.8 529.3,378.2 528.2,376.7 527.1,375.2 525.9,373.6 524.8,372.1 523.7,370.6 522.7,369.3"/><polyline points="517.6,362.5 516.4,361.0 515.3,359.5 514.1,358.0 512.9,356.5 511.7,355.0 510.6,353.5 509.4,352.0 508.2,350.5 507.0,349.0 505.8,347.5 505.6,347.2"/><polyline points="500.1,340.6 498.9,339.1 497.7,337.6 496.4,336.2 495.2,334.7 494.0,333.2 492.7,331.8 491.5,330.3 490.3,328.8 489.0,327.4 487.8,325.9 487.1,325.2"/><polyline points="481.3,318.4 480.0,317.0 478.7,315.6 477.5,314.1 476.2,312.7 474.9,311.3 473.6,309.8 472.4,308.4 471.1,307.0 469.8,305.6 468.5,304.2 467.9,303.5"/><polyline points="461.7,296.6 460.4,295.2 459.1,293.8 457.8,292.4 456.5,291.0 455.2,289.6 454.0,288.3 452.7,286.9 451.4,285.5 450.1,284.1 448.8,282.7 447.5,281.3 447.5,281.3"/><polyline points="441.2,274.7 439.9,273.3 438.7,272.0 437.4,270.6 436.1,269.2 434.8,267.9 433.5,266.5 432.2,265.2 430.9,263.8 429.6,262.5 428.3,261.1 427.0,259.8 426.8,259.5"/><polyline points="420.2,252.6 418.9,251.3 417.6,250.0 416.3,248.6 415.0,247.3 413.7,246.0 412.5,244.7 411.2,243.4 409.9,242.0 408.6,240.7 407.3,239.4 406.1,238.1 405.4,237.4"/><polyline points="398.9,230.7 397.6,229.4 396.3,228.1 395.1,226.8 393.8,225.5 392.5,224.3 391.3,223.0 390.0,221.7 388.7,220.4 387.5,219.1 386.2,217.8 385.0,216.6 384.1,215.7"/><polyline points="377.3,208.7 376.0,207.5 374.8,206.2 373.5,205.0 372.3,203.7 371.0,202.4 369.8,201.2 368.6,199.9 367.3,198.7 366.1,197.5 364.9,196.2 363.6,195.0 362.4,193.7 362.4,193.7"/><polyline points="355.7,186.9 354.5,185.7 353.3,184.5 352.0,183.3 350.8,182.0 349.6,180.8 348.4,179.6 347.2,178.4 346.0,177.2 344.8,176.0 343.6,174.7 342.4,173.5 341.2,172.3 340.6,171.7"/><polyline points="333.8,164.9 332.6,163.7 331.5,162.5 330.3,161.3 329.1,160.2 327.9,159.0 326.7,157.8 325.6,156.6 324.4,155.4 323.2,154.2 322.0,153.1 320.9,151.9 319.7,150.7 318.9,149.9"/><polyline points="312.2,143.1 311.0,142.0 309.8,140.8 308.7,139.7 307.5,138.5 306.4,137.3 305.2,136.2 304.1,135.0 303.0,133.9 301.8,132.8 300.7,131.6 299.5,130.5 298.4,129.3 297.3,128.2 297.1,128.0"/><polyline points="290.3,121.2 289.2,120.1 288.1,118.9 286.9,117.8 285.8,116.7 284.7,115.6 283.6,114.5 282.5,113.3 281.4,112.2 280.3,111.1 279.2,110.0 278.1,108.9 276.9,107.8 275.8,106.7 275.1,106.0"/><polyline points="268.4,99.2 267.3,98.1 266.2,97.0 265.1,95.9 264.0,94.8 262.9,93.7 261.8,92.6 260.8,91.6 259.7,90.5 258.6,89.4 257.5,88.3 256.5,87.2 255.4,86.2 254.3,85.1 253.3,84.0 253.3,84.0"/><polyline points="246.5,77.3 245.5,76.2 244.4,75.2 243.4,74.1 242.3,73.0 241.3,72.0 240.2,70.9 239.2,69.9 238.1,68.8 237.1,67.8 236.0,66.8 235.0,65.7 234.0,64.7 232.9,63.6 231.9,62.6 231.5,62.2"/><polyline points="224.7,55.4 223.7,54.3 222.6,53.3 221.6,52.3 220.6,51.3 219.6,50.2 218.6,49.2 217.6,48.2 216.6,47.2 215.5,46.2 214.5,45.2 213.5,44.2 212.5,43.2 211.5,42.1 210.5,41.1 209.7,40.3"/><polyline points="202.9,33.5 201.9,32.5 200.9,31.5 199.9,30.5 198.9,29.5 198.0,28.5 197.0,27.5 196.0,26.6 195.0,25.6 194.0,24.6 193.1,23.6 192.1,22.6 191.1,21.7 190.1,20.7 189.2,19.7 188.2,18.8 187.9,18.4"/><polyline points="181.0,11.5 180.0,10.6 179.1,9.6 178.1,8.6 177.2,7.7 176.2,6.7 175.3,5.8 174.3,4.8 173.4,3.9 172.4,2.9 171.5,2.0 170.6,1.0 169.6,0.1 168.7,-0.8 167.7,-1.8 166.8,-2.7 166.0,-3.5"/><polyline points="159.2,-10.3 158.3,-11.3 157.4,-12.2 156.5,-13.1 155.5,-14.0 154.6,-14.9 153.7,-15.9 152.8,-16.8 151.9,-17.7 151.0,-18.6 150.1,-19.5 149.2,-20.4 148.3,-21.3 147.3,-22.3 146.4,-23.2 145.5,-24.1 144.6,-25.0 144.2,-25.4"/><polyline points="137.3,-32.3 136.4,-33.2 135.6,-34.1 134.7,-35.0 133.8,-35.9 132.9,-36.8 132.0,-37.6 131.1,-38.5 130.3,-39.4 129.4,-40.3 128.5,-41.2 127.6,-42.0 126.8,-42.9 125.9,-43.8 125.0,-44.7 124.1,-45.5 123.3,-46.4 122.4,-47.3 122.3,-47.4"/><polyline points="115.5,-54.2 114.7,-55.1 113.8,-55.9 113.0,-56.8 112.1,-57.6 111.3,-58.5 110.4,-59.3 109.6,-60.2 108.7,-61.0 107.9,-61.9 107.0,-62.7 106.2,-63.6 105.3,-64.4 104.5,-65.3 103.7,-66.1 102.8,-67.0 102.5,-67.2"/><polyline points="685.4,740.8 685.9,739.0 686.3,737.2 686.7,735.4 687.1,733.6 687.5,731.8 687.9,730.0 688.3,728.2 688.7,726.4 688.9,725.5"/><polyline points="690.4,718.6 690.8,716.8 691.2,715.0 691.6,713.2 692.0,711.4 692.4,709.6 692.8,707.8 693.2,706.0 693.6,704.2 693.8,703.3"/><polyline points="695.3,696.5 695.6,694.7 696.0,692.9 696.4,691.1 696.8,689.3 697.2,687.5 697.5,685.7 697.9,683.9 698.3,682.1 698.5,681.2"/><polyline points="699.9,674.4 700.3,672.6 700.7,670.8 701.0,669.0 701.4,667.2 701.8,665.4 702.1,663.7 702.5,661.9 702.9,660.1 703.0,659.2"/><polyline points="704.4,652.4 704.8,650.6 705.1,648.8 705.5,647.0 705.8,645.2 706.2,643.4 706.5,641.7 706.9,639.9 707.2,638.1 707.4,636.9"/><polyline points="708.7,630.1 709.1,628.3 709.4,626.5 709.7,624.8 710.1,623.0 710.4,621.2 710.7,619.4 711.1,617.6 711.4,615.9 711.6,615.0"/><polyline points="712.8,608.2 713.1,606.4 713.4,604.6 713.7,602.9 714.0,601.1 714.3,599.3 714.6,597.5 714.9,595.8 715.3,594.0 715.5,592.8"/><polyline points="716.6,586.0 716.9,584.3 717.2,582.5 717.5,580.7 717.7,579.0 718.0,577.2 718.3,575.4 718.6,573.7 718.9,571.9 719.1,570.7"/><polyline points="720.1,564.0 720.4,562.2 720.6,560.4 720.9,558.7 721.1,556.9 721.4,555.1 721.7,553.4 721.9,551.6 722.2,549.9 722.3,548.7"/><polyline points="723.2,541.9 723.5,540.2 723.7,538.4 723.9,536.7 724.2,534.9 724.4,533.2 724.6,531.4 724.8,529.6 725.1,527.9 725.2,526.4"/><polyline points="726.0,519.7 726.2,518.0 726.4,516.2 726.6,514.5 726.8,512.7 727.0,511.0 727.2,509.2 727.4,507.5 727.5,505.7 727.7,504.5"/><polyline points="728.3,497.6 728.5,495.8 728.7,494.1 728.8,492.3 729.0,490.6 729.1,488.8 729.3,487.1 729.4,485.3 729.5,483.6 729.6,482.4"/><polyline points="730.1,475.5 730.3,473.7 730.4,472.0 730.5,470.3 730.6,468.5 730.7,466.8 730.8,465.1 730.9,463.3 731.0,461.6 731.0,460.2"/><polyline points="731.3,453.5 731.4,451.8 731.5,450.1 731.5,448.3 731.6,446.6 731.6,444.9 731.7,443.1 731.7,441.4 731.7,439.7 731.8,438.3"/><polyline points="731.9,431.4 731.9,429.6 731.9,427.9 731.9,426.2 731.9,424.5 731.9,422.8 731.8,421.0 731.8,419.3 731.8,417.6 731.8,416.2"/><polyline points="731.6,409.3 731.5,407.6 731.5,405.9 731.4,404.2 731.3,402.5 731.3,400.8 731.2,399.1 731.1,397.4 731.0,395.7 730.9,393.9 730.9,393.9"/><polyline points="730.4,387.1 730.3,385.4 730.2,383.7 730.0,382.0 729.9,380.3 729.7,378.6 729.6,376.9 729.4,375.3 729.2,373.6 729.1,371.9 729.1,371.9"/><polyline points="728.3,365.1 728.1,363.4 727.8,361.7 727.6,360.0 727.4,358.4 727.2,356.7 726.9,355.0 726.7,353.3 726.4,351.6 726.1,350.0 726.1,349.7"/><polyline points="724.9,343.0 724.6,341.3 724.3,339.6 724.0,338.0 723.7,336.3 723.3,334.6 723.0,333.0 722.6,331.3 722.3,329.6 721.9,328.0 721.9,327.7"/><polyline points="720.2,320.8 719.8,319.1 719.4,317.5 719.0,315.8 718.6,314.2 718.1,312.5 717.7,310.9 717.2,309.2 716.8,307.6 716.3,305.9 716.2,305.6"/><polyline points="714.1,298.8 713.6,297.2 713.1,295.5 712.6,293.9 712.0,292.3 711.5,290.6 710.9,289.0 710.3,287.4 709.7,285.8 709.2,284.1 709.0,283.6"/><polyline points="706.3,276.6 705.7,275.0 705.0,273.4 704.4,271.8 703.7,270.1 703.0,268.5 702.3,266.9 701.6,265.3 700.9,263.7 700.2,262.1 699.9,261.3"/><polyline points="696.8,254.7 696.0,253.1 695.3,251.5 694.5,249.9 693.7,248.4 692.9,246.8 692.1,245.2 691.3,243.6 690.5,242.1 689.6,240.5 689.1,239.4"/><polyline points="685.4,232.7 684.5,231.1 683.6,229.6 682.7,228.0 681.8,226.4 680.9,224.9 680.0,223.3 679.0,221.8 678.1,220.3 677.2,218.7 676.4,217.4"/><polyline points="672.0,210.5 671.0,209.0 670.0,207.5 669.0,206.0 668.0,204.5 666.9,202.9 665.9,201.4 664.9,199.9 663.8,198.4 662.8,196.9 661.7,195.4 661.7,195.4"/><polyline points="656.7,188.4 655.6,186.9 654.5,185.4 653.4,183.9 652.3,182.5 651.2,181.0 650.1,179.5 649.0,178.0 647.8,176.6 646.7,175.1 645.6,173.6 645.4,173.4"/><polyline points="640.0,166.6 638.8,165.1 637.7,163.6 636.5,162.2 635.3,160.8 634.1,159.3 632.9,157.9 631.7,156.4 630.5,155.0 629.3,153.6 628.1,152.1 627.5,151.4"/><polyline points="621.7,144.5 620.5,143.1 619.2,141.7 618.0,140.3 616.8,138.9 615.5,137.5 614.3,136.1 613.1,134.7 611.8,133.3 610.6,131.9 609.4,130.5 608.3,129.3"/><polyline points="602.3,122.6 601.0,121.2 599.8,119.8 598.5,118.5 597.3,117.1 596.0,115.7 594.8,114.4 593.5,113.0 592.3,111.6 591.0,110.3 589.7,108.9 588.5,107.6 588.5,107.6"/><polyline points="582.0,100.6 580.7,99.2 579.4,97.9 578.2,96.6 576.9,95.2 575.6,93.9 574.4,92.6 573.1,91.2 571.9,89.9 570.6,88.6 569.3,87.3 568.1,85.9 567.6,85.5"/><polyline points="561.1,78.7 559.9,77.4 558.6,76.1 557.4,74.8 556.1,73.5 554.8,72.2 553.6,70.9 552.3,69.6 551.1,68.3 549.8,67.0 548.6,65.7 547.3,64.5 546.5,63.6"/><polyline points="539.9,56.8 538.6,55.5 537.4,54.2 536.1,53.0 534.9,51.7 533.6,50.4 532.4,49.2 531.2,47.9 529.9,46.7 528.7,45.4 527.5,44.2 526.2,42.9 525.0,41.7 525.0,41.7"/><polyline points="518.3,34.8 517.1,33.6 515.8,32.4 514.6,31.1 513.4,29.9 512.2,28.7 511.0,27.4 509.8,26.2 508.6,25.0 507.4,23.8 506.2,22.5 504.9,21.3 503.7,20.1 503.3,19.7"/><polyline points="496.6,12.9 495.4,11.7 494.2,10.5 493.0,9.3 491.8,8.1 490.6,6.9 489.4,5.7 488.2,4.5 487.1,3.3 485.9,2.1 484.7,0.9 483.5,-0.3 482.4,-1.4 481.6,-2.2"/><polyline points="475.0,-8.9 473.8,-10.1 472.6,-11.2 471.5,-12.4 470.3,-13.6 469.2,-14.7 468.0,-15.9 466.9,-17.0 465.7,-18.2 464.6,-19.3 463.4,-20.5 462.3,-21.6 461.1,-22.8 460.0,-23.9 459.8,-24.1"/><polyline points="453.0,-31.0 451.9,-32.1 450.7,-33.2 449.6,-34.4 448.5,-35.5 447.3,-36.6 446.2,-37.8 445.1,-38.9 444.0,-40.0 442.9,-41.1 441.8,-42.2 440.6,-43.4 439.5,-44.5 438.4,-45.6 438.1,-46.0"/><polyline points="431.3,-52.8 430.2,-53.9 429.1,-55.0 428.0,-56.1 426.9,-57.2 425.8,-58.3 424.7,-59.4 423.6,-60.5 422.5,-61.6 421.4,-62.6 420.4,-63.7 419.3,-64.8 418.2,-65.9 417.1,-67.0 416.2,-67.9"/><polyline points="409.4,-74.7 408.4,-75.7 407.3,-76.8 406.3,-77.9 405.2,-78.9 404.1,-80.0 403.1,-81.1 402.0,-82.1 401.0,-83.2 399.9,-84.2 398.9,-85.3 397.8,-86.3 396.8,-87.4 395.7,-88.4 394.7,-89.5 394.4,-89.8"/><polyline points="387.6,-96.6 386.6,-97.6 385.6,-98.6 384.5,-99.7 383.5,-100.7 382.5,-101.7 381.5,-102.8 380.4,-103.8 379.4,-104.8 378.4,-105.8 377.4,-106.9 376.4,-107.9 375.3,-108.9 374.3,-109.9 373.3,-110.9 372.5,-111.8"/><polyline points="365.6,-118.6 364.6,-119.6 363.6,-120.6 362.6,-121.6 361.7,-122.6 360.7,-123.6 359.7,-124.6 358.7,-125.6 357.7,-126.6 356.7,-127.6 355.7,-128.6 354.7,-129.6 353.8,-130.5 352.8,-131.5 351.8,-132.5 350.8,-133.5 350.7,-133.6"/><polyline points="343.9,-140.5 342.9,-141.4 342.0,-142.4 341.2,-143.2"/><polyline points="763.4,744.9 763.9,743.1 764.5,741.3 765.1,739.5 765.7,737.7 766.2,735.9 766.8,734.0 767.4,732.2 768.0,730.4 768.2,729.5"/><polyline points="770.4,722.6 771.0,720.8 771.6,719.0 772.2,717.2 772.7,715.3 773.3,713.5 773.9,711.7 774.4,709.9 775.0,708.1 775.2,707.5"/><polyline points="777.4,700.6 778.0,698.8 778.6,697.0 779.1,695.2 779.7,693.4 780.3,691.6 780.8,689.8 781.4,688.0 782.0,686.2 782.3,685.3"/><polyline points="784.4,678.6 784.9,676.8 785.5,675.0 786.1,673.2 786.7,671.4 787.2,669.6 787.8,667.8 788.4,666.0 788.9,664.2 789.2,663.3"/><polyline points="791.4,656.4 792.0,654.6 792.6,652.8 793.1,651.0 793.7,649.2 794.3,647.4 794.9,645.7 795.4,643.9 796.0,642.1 796.3,641.2"/><polyline points="798.5,634.3 799.0,632.5 799.6,630.7 800.2,628.9 800.7,627.1 801.3,625.3 801.9,623.5 802.5,621.7 803.0,619.9 803.3,619.0"/><polyline points="805.5,612.2 806.0,610.4 806.6,608.6 807.2,606.8 807.7,605.0 808.3,603.2 808.9,601.4 809.4,599.6 810.0,597.8 810.3,596.9"/><polyline points="812.5,590.1 813.0,588.3 813.6,586.5 814.1,584.7 814.7,582.9 815.3,581.1 815.8,579.4 816.4,577.6 817.0,575.8 817.2,574.9"/><polyline points="819.4,568.0 819.9,566.3 820.5,564.5 821.1,562.7 821.6,560.9 822.2,559.1 822.7,557.3 823.3,555.6 823.8,553.8 824.1,552.9"/><polyline points="826.2,546.1 826.8,544.3 827.4,542.5 827.9,540.7 828.5,538.9 829.0,537.1 829.6,535.4 830.1,533.6 830.7,531.8 830.9,530.9"/><polyline points="833.1,523.8 833.7,522.0 834.2,520.3 834.8,518.5 835.3,516.7 835.9,514.9 836.4,513.1 837.0,511.4 837.5,509.6 837.8,508.7"/><polyline points="839.9,501.9 840.4,500.1 841.0,498.4 841.5,496.6 842.0,494.8 842.6,493.0 843.1,491.3 843.7,489.5 844.2,487.7 844.5,486.5"/><polyline points="846.6,479.8 847.1,478.0 847.7,476.2 848.2,474.4 848.7,472.7 849.3,470.9 849.8,469.1 850.3,467.4 850.8,465.6 851.2,464.4"/><polyline points="853.2,457.6 853.7,455.9 854.3,454.1 854.8,452.3 855.3,450.6 855.8,448.8 856.3,447.0 856.9,445.3 857.4,443.5 857.7,442.3"/><polyline points="859.7,435.6 860.2,433.8 860.7,432.1 861.2,430.3 861.8,428.5 862.3,426.8 862.8,425.0 863.3,423.2 863.8,421.5 864.1,420.3"/><polyline points="866.1,413.6 866.6,411.8 867.1,410.1 867.6,408.3 868.1,406.5 868.5,404.8 869.0,403.0 869.5,401.3 870.0,399.5 870.4,398.3"/><polyline points="872.3,391.3 872.8,389.6 873.3,387.8 873.8,386.1 874.3,384.3 874.7,382.5 875.2,380.8 875.7,379.0 876.2,377.3 876.5,376.1"/><polyline points="878.3,369.4 878.8,367.7 879.3,365.9 879.7,364.2 880.2,362.4 880.7,360.7 881.1,358.9 881.6,357.2 882.0,355.4 882.4,354.2"/><polyline points="884.2,347.3 884.6,345.5 885.1,343.8 885.5,342.0 886.0,340.3 886.4,338.5 886.9,336.8 887.3,335.0 887.8,333.3 888.1,332.1"/><polyline points="889.8,325.2 890.2,323.4 890.7,321.7 891.1,319.9 891.5,318.2 891.9,316.5 892.4,314.7 892.8,313.0 893.2,311.3 893.6,309.8"/><polyline points="895.1,303.1 895.5,301.4 896.0,299.7 896.4,297.9 896.8,296.2 897.2,294.5 897.6,292.7 898.0,291.0 898.3,289.3 898.7,287.8"/><polyline points="900.2,280.9 900.6,279.2 901.0,277.4 901.4,275.7 901.7,274.0 902.1,272.2 902.5,270.5 902.8,268.8 903.2,267.1 903.5,265.9"/><polyline points="904.9,259.0 905.2,257.3 905.6,255.5 905.9,253.8 906.3,252.1 906.6,250.4 907.0,248.6 907.3,246.9 907.6,245.2 907.9,243.8"/><polyline points="909.2,236.9 909.5,235.2 909.8,233.4 910.1,231.7 910.4,230.0 910.7,228.3 911.0,226.6 911.3,224.9 911.6,223.1 911.9,221.7"/><polyline points="913.0,214.9 913.3,213.1 913.6,211.4 913.8,209.7 914.1,208.0 914.4,206.3 914.6,204.6 914.9,202.9 915.2,201.2 915.4,199.5 915.4,199.5"/><polyline points="916.4,192.6 916.6,190.9 916.8,189.2 917.0,187.5 917.3,185.8 917.5,184.1 917.7,182.4 917.9,180.7 918.1,179.0 918.3,177.3 918.3,177.3"/><polyline points="919.1,170.5 919.2,168.8 919.4,167.1 919.6,165.4 919.8,163.7 919.9,162.0 920.1,160.3 920.2,158.7 920.4,157.0 920.5,155.3 920.5,155.3"/><polyline points="921.1,148.5 921.2,146.8 921.3,145.1 921.4,143.5 921.5,141.8 921.6,140.1 921.7,138.4 921.8,136.7 921.9,135.0 922.0,133.4 922.0,133.1"/><polyline points="922.2,126.4 922.3,124.7 922.3,123.0 922.4,121.3 922.4,119.7 922.5,118.0 922.5,116.3 922.5,114.6 922.5,113.0 922.5,111.3 922.5,111.0"/><polyline points="922.5,104.3 922.5,102.7 922.4,101.0 922.4,99.4 922.3,97.7 922.3,96.0 922.2,94.4 922.2,92.7 922.1,91.1 922.0,89.4 922.0,89.1"/><polyline points="921.6,82.2 921.5,80.6 921.4,78.9 921.3,77.3 921.1,75.6 921.0,74.0 920.8,72.3 920.7,70.7 920.5,69.1 920.3,67.4 920.3,66.9"/><polyline points="919.5,60.0 919.3,58.4 919.0,56.8 918.8,55.1 918.6,53.5 918.3,51.9 918.1,50.3 917.8,48.6 917.5,47.0 917.3,45.4 917.2,44.8"/><polyline points="915.8,37.8 915.5,36.2 915.2,34.6 914.8,33.0 914.5,31.4 914.1,29.8 913.7,28.2 913.4,26.6 913.0,25.0 912.6,23.4 912.4,22.8"/><polyline points="910.6,15.9 910.2,14.3 909.7,12.7 909.2,11.1 908.7,9.5 908.3,8.0 907.8,6.4 907.3,4.8 906.7,3.2 906.2,1.6 905.9,0.6"/><polyline points="903.4,-6.2 902.9,-7.8 902.3,-9.4 901.7,-10.9 901.1,-12.5 900.4,-14.0 899.8,-15.6 899.2,-17.2 898.5,-18.7 897.8,-20.3 897.3,-21.5"/><polyline points="894.3,-28.2 893.6,-29.8 892.8,-31.3 892.1,-32.8 891.3,-34.4 890.6,-35.9 889.8,-37.4 889.0,-38.9 888.3,-40.5 887.5,-42.0 886.7,-43.5 886.7,-43.5"/><polyline points="882.9,-50.3 882.1,-51.8 881.2,-53.3 880.3,-54.8 879.5,-56.3 878.6,-57.8 877.7,-59.3 876.8,-60.7 875.9,-62.2 874.9,-63.7 874.0,-65.2 873.9,-65.4"/><polyline points="869.4,-72.3 868.4,-73.8 867.5,-75.2 866.5,-76.7 865.5,-78.2 864.5,-79.6 863.4,-81.1 862.4,-82.5 861.4,-84.0 860.4,-85.4 859.3,-86.9 858.8,-87.6"/><polyline points="853.9,-94.3 852.8,-95.7 851.7,-97.1 850.6,-98.5 849.5,-100.0 848.4,-101.4 847.3,-102.8 846.2,-104.2 845.1,-105.6 844.0,-107.0 842.9,-108.4 841.9,-109.6"/><polyline points="836.4,-116.3 835.3,-117.7 834.1,-119.1 833.0,-120.5 831.8,-121.9 830.6,-123.3 829.5,-124.6 828.3,-126.0 827.1,-127.4 825.9,-128.7 824.8,-130.1 823.6,-131.5 823.6,-131.5"/><polyline points="817.6,-138.2 816.4,-139.6 815.2,-140.9 814.0,-142.3 812.8,-143.6 811.6,-145.0 810.4,-146.3 809.2,-147.6 808.0,-149.0 806.8,-150.3 805.6,-151.6 804.4,-152.9 804.0,-153.4"/><polyline points="797.7,-160.2 796.5,-161.5 795.3,-162.8 794.0,-164.1 792.8,-165.4 791.6,-166.7 790.4,-168.0 789.2,-169.3 787.9,-170.6 786.7,-171.9 785.5,-173.2 784.3,-174.5 783.5,-175.3"/><polyline points="776.9,-182.2 775.7,-183.4 774.5,-184.7 773.3,-186.0 772.1,-187.2 770.9,-188.5 769.6,-189.8 768.4,-191.0 767.2,-192.3 766.0,-193.5 764.8,-194.8 763.6,-196.1 762.3,-197.3 762.3,-197.3"/><polyline points="755.7,-204.1 754.5,-205.4 753.3,-206.6 752.1,-207.8 750.9,-209.1 749.7,-210.3 748.5,-211.5 747.3,-212.8 746.1,-214.0 744.9,-215.2 743.7,-216.4 742.5,-217.6 741.3,-218.9 740.9,-219.3"/><polyline points="734.1,-226.1 733.0,-227.3 731.8,-228.5 730.6,-229.7 729.4,-230.9 728.2,-232.1 727.1,-233.3 725.9,-234.5 725.7,-234.7"/><polyline points="840.1,750.2 840.8,748.4 841.5,746.6 842.1,744.7 842.8,742.9 843.5,741.1 844.2,739.3 844.8,737.4 845.5,735.6 845.8,734.7"/><polyline points="848.3,728.0 849.0,726.2 849.7,724.4 850.3,722.6 851.0,720.8 851.7,718.9 852.4,717.1 853.1,715.3 853.7,713.5 854.0,712.9"/><polyline points="856.6,705.9 857.2,704.1 857.9,702.3 858.6,700.5 859.3,698.6 860.0,696.8 860.7,695.0 861.3,693.2 862.0,691.4 862.2,690.8"/><polyline points="864.9,683.8 865.6,682.0 866.2,680.2 866.9,678.4 867.6,676.6 868.3,674.8 869.0,672.9 869.7,671.1 870.4,669.3 870.6,668.7"/><polyline points="873.2,661.8 873.9,660.0 874.6,658.1 875.3,656.3 876.0,654.5 876.7,652.7 877.4,650.9 878.1,649.1 878.8,647.3 879.1,646.4"/><polyline points="881.6,639.8 882.3,637.9 883.0,636.1 883.7,634.3 884.4,632.5 885.1,630.7 885.8,628.9 886.5,627.1 887.2,625.3 887.6,624.4"/><polyline points="890.2,617.5 890.9,615.7 891.6,613.9 892.3,612.1 893.0,610.3 893.7,608.5 894.4,606.7 895.1,604.9 895.8,603.0 896.1,602.4"/><polyline points="898.7,595.5 899.4,593.7 900.2,591.9 900.9,590.1 901.6,588.3 902.3,586.5 903.0,584.7 903.7,582.9 904.4,581.1 904.7,580.2"/><polyline points="907.4,573.3 908.1,571.5 908.8,569.7 909.5,567.9 910.2,566.1 911.0,564.3 911.7,562.5 912.4,560.7 913.1,559.0 913.3,558.4"/><polyline points="916.0,551.5 916.7,549.7 917.4,547.9 918.2,546.1 918.9,544.3 919.6,542.5 920.3,540.7 921.0,538.9 921.7,537.1 922.1,536.2"/><polyline points="924.8,529.3 925.5,527.5 926.2,525.8 926.9,524.0 927.6,522.2 928.4,520.4 929.1,518.6 929.8,516.8 930.5,515.0 930.9,514.1"/><polyline points="933.6,507.2 934.3,505.4 935.0,503.7 935.7,501.9 936.5,500.1 937.2,498.3 937.9,496.5 938.6,494.7 939.3,492.9 939.7,492.0"/><polyline points="942.4,485.2 943.2,483.4 943.9,481.6 944.6,479.8 945.3,478.0 946.0,476.2 946.7,474.5 947.5,472.7 948.2,470.9 948.5,470.0"/><polyline points="951.3,463.2 952.0,461.4 952.7,459.6 953.5,457.8 954.2,456.0 954.9,454.2 955.6,452.5 956.3,450.7 957.1,448.9 957.4,448.0"/><polyline points="960.2,441.2 960.9,439.4 961.6,437.6 962.4,435.8 963.1,434.0 963.8,432.3 964.5,430.5 965.3,428.7 966.0,426.9 966.5,425.7"/><polyline points="969.2,418.9 970.0,417.1 970.7,415.4 971.4,413.6 972.1,411.8 972.9,410.0 973.6,408.2 974.3,406.5 975.0,404.7 975.4,403.8"/><polyline points="978.2,397.0 978.9,395.2 979.6,393.4 980.4,391.7 981.1,389.9 981.8,388.1 982.5,386.3 983.3,384.6 984.0,382.8 984.5,381.6"/><polyline points="987.3,374.8 988.0,373.0 988.7,371.3 989.5,369.5 990.2,367.7 990.9,365.9 991.6,364.2 992.4,362.4 993.1,360.6 993.4,359.7"/><polyline points="996.4,352.7 997.1,350.9 997.8,349.1 998.5,347.3 999.3,345.6 1000.0,343.8 1000.7,342.0 1001.5,340.3 1002.2,338.5 1002.5,337.6"/><polyline points="1005.3,330.8 1006.1,329.1 1006.8,327.3 1007.5,325.5 1008.2,323.8 1009.0,322.0 1009.7,320.2 1010.4,318.5 1011.2,316.7 1011.6,315.5"/><polyline points="1014.4,308.8 1015.2,307.0 1015.9,305.2 1016.6,303.5 1017.4,301.7 1018.1,299.9 1018.8,298.2 1019.5,296.4 1020.3,294.6 1020.7,293.5"/><polyline points="1023.7,286.4 1024.4,284.7 1025.1,282.9 1025.8,281.1 1026.6,279.4 1027.3,277.6 1028.0,275.8 1028.8,274.1 1029.5,272.3 1029.8,271.4"/><polyline points="1032.8,264.4 1033.5,262.6 1034.2,260.9 1034.9,259.1 1035.7,257.4 1036.4,255.6 1037.1,253.9 1037.8,252.1 1038.6,250.3 1039.1,249.2"/><polyline points="1041.8,242.4 1042.6,240.7 1043.3,238.9 1044.0,237.2 1044.7,235.4 1045.5,233.7 1046.2,231.9 1046.9,230.1 1047.6,228.4 1048.1,227.2"/><polyline points="1050.9,220.5 1051.6,218.7 1052.3,217.0 1053.1,215.2 1053.8,213.5 1054.5,211.7 1055.2,210.0 1056.0,208.2 1056.7,206.5 1057.3,205.0"/><polyline points="1060.1,198.3 1060.8,196.5 1061.5,194.8 1062.2,193.0 1062.9,191.3 1063.7,189.5 1064.4,187.8 1065.1,186.0 1065.8,184.3 1066.3,183.1"/><polyline points="1069.2,176.1 1069.9,174.4 1070.6,172.6 1071.3,170.9 1072.0,169.1 1072.8,167.4 1073.5,165.6 1074.2,163.9 1074.9,162.2 1075.4,161.0"/><polyline points="1078.3,154.0 1079.0,152.3 1079.7,150.5 1080.4,148.8 1081.1,147.0 1081.8,145.3 1082.5,143.5 1083.3,141.8 1084.0,140.1 1084.4,138.9"/><polyline points="1087.2,132.2 1087.9,130.5 1088.6,128.7 1089.3,127.0 1090.0,125.2 1090.7,123.5 1091.4,121.8 1092.1,120.0 1092.8,118.3 1093.4,116.8"/><polyline points="1096.3,109.9 1097.0,108.1 1097.7,106.4 1098.4,104.7 1099.1,102.9 1099.8,101.2 1100.5,99.4 1101.2,97.7 1101.9,96.0 1102.4,94.8"/><polyline points="1105.2,87.9 1105.9,86.1 1106.6,84.4 1107.3,82.6 1107.9,80.9 1108.6,79.2 1109.3,77.4 1110.0,75.7 1110.7,74.0 1111.2,72.8"/><polyline points="1114.0,65.9 1114.7,64.2 1115.4,62.4 1116.0,60.7 1116.7,59.0 1117.4,57.2 1118.1,55.5 1118.8,53.8 1119.5,52.0 1120.1,50.6"/><polyline points="1122.8,43.7 1123.5,41.9 1124.2,40.2 1124.9,38.5 1125.5,36.7 1126.2,35.0 1126.9,33.3 1127.6,31.6 1128.3,29.8 1128.7,28.7"/><polyline points="1131.4,21.8 1132.1,20.0 1132.8,18.3 1133.4,16.6 1134.1,14.9 1134.8,13.1 1135.5,11.4 1136.1,9.7 1136.8,8.0 1137.4,6.5"/><polyline points="1140.0,-0.4 1140.7,-2.1 1141.4,-3.8 1142.0,-5.5 1142.7,-7.3 1143.3,-9.0 1144.0,-10.7 1144.7,-12.4 1145.3,-14.1 1145.9,-15.6"/><polyline points="1148.5,-22.5 1149.1,-24.2 1149.8,-25.9 1150.4,-27.6 1151.1,-29.3 1151.7,-31.0 1152.4,-32.8 1153.0,-34.5 1153.7,-36.2 1154.2,-37.6"/><polyline points="1156.8,-44.5 1157.4,-46.2 1158.1,-47.9 1158.7,-49.6 1159.3,-51.4 1160.0,-53.1 1160.6,-54.8 1161.2,-56.5 1161.9,-58.2 1162.4,-59.6"/><polyline points="1164.9,-66.5 1165.5,-68.2 1166.1,-69.9 1166.7,-71.6 1167.4,-73.3 1168.0,-75.0 1168.6,-76.8 1169.2,-78.5 1169.8,-80.2 1170.4,-81.9 1170.4,-81.9"/><polyline points="1172.9,-88.7 1173.5,-90.4 1174.1,-92.1 1174.7,-93.8 1175.3,-95.5 1175.9,-97.3 1176.5,-99.0 1177.1,-100.7 1177.7,-102.4 1178.2,-103.8"/><polyline points="1180.5,-110.6 1181.1,-112.3 1181.7,-114.0 1182.3,-115.7 1182.9,-117.4 1183.4,-119.1 1184.0,-120.8 1184.6,-122.5 1185.2,-124.2 1185.7,-125.9 1185.7,-125.9"/><polyline points="1188.0,-132.7 1188.6,-134.4 1189.1,-136.1 1189.7,-137.8 1190.3,-139.5 1190.8,-141.2 1191.4,-142.9 1191.9,-144.6 1192.5,-146.3 1193.0,-148.0 1193.0,-148.0"/><polyline points="1195.2,-154.8 1195.7,-156.4 1196.3,-158.1 1196.8,-159.8 1197.3,-161.5 1197.8,-163.2 1198.4,-164.9 1198.9,-166.6 1199.4,-168.3 1199.9,-170.0 1200.0,-170.3"/><polyline points="1202.1,-177.0 1202.6,-178.7 1203.1,-180.4 1203.6,-182.1 1204.1,-183.8 1204.6,-185.4 1205.1,-187.1 1205.6,-188.8 1206.1,-190.5 1206.5,-192.2 1206.5,-192.2"/><polyline points="1208.5,-199.2 1209.0,-200.9 1209.5,-202.5 1210.0,-204.2 1210.4,-205.9 1210.9,-207.6 1211.3,-209.3 1211.8,-210.9 1212.2,-212.6 1212.7,-214.3 1212.7,-214.3"/><polyline points="1214.5,-221.0 1214.9,-222.7 1215.3,-224.3 1215.8,-226.0 1216.2,-227.7 1216.6,-229.4 1217.0,-231.0 1217.4,-232.7 1217.8,-234.4 1218.2,-236.0 1218.3,-236.3"/><polyline points="1220.0,-243.3 1220.4,-244.9 1220.7,-246.6 1221.1,-248.3 1221.5,-249.9 1221.9,-251.6 1222.2,-253.3 1222.6,-254.9 1223.0,-256.6 1223.3,-258.2 1223.4,-258.5"/><polyline points="1224.8,-265.4 1225.2,-267.1 1225.5,-268.7 1225.8,-270.4 1226.2,-272.1 1226.5,-273.7 1226.8,-275.4 1227.1,-277.0 1227.4,-278.7 1227.7,-280.3 1227.8,-280.6"/><polyline points="1229.0,-287.5 1229.2,-289.1 1229.5,-290.8 1229.8,-292.4 1230.0,-294.0 1230.3,-295.7 1230.5,-297.3 1230.7,-298.7"/></g>
<g fill="none" stroke="#b4b4b4" stroke-width="1.2"><polyline points="38.8,2.1 55.9,-3.8 73.0,-9.6 89.9,-15.3 106.7,-20.9 123.4,-26.3 139.9,-31.7 156.4,-36.9 172.8,-42.1 189.1,-47.1 205.2,-52.1 221.3,-56.9 237.3,-61.7 253.2,-66.3 269.0,-70.9 284.7,-75.4 300.3,-79.8 315.8,-84.1 331.3,-88.3 346.6,-92.4 361.9,-96.5 377.1,-100.5 392.2,-104.3 407.2,-108.2 422.2,-111.9 437.1,-115.5 451.9,-119.1 466.6,-122.6 481.3,-126.1 495.9,-129.4 510.4,-132.7 524.8,-136.0 539.2,-139.1 553.5,-142.2 567.8,-145.2 582.0,-148.2 596.1,-151.1 610.1,-153.9 624.1,-156.7 638.0,-159.4 651.9,-162.1 665.7,-164.6 679.5,-167.2 693.2,-169.6 706.8,-172.1 720.4,-174.4 733.9,-176.7 747.4,-179.0 760.8,-181.2 774.2,-183.3 787.5,-185.4 800.7,-187.4 813.9,-189.4 827.1,-191.4 840.2,-193.3 853.3,-195.1 866.3,-196.9 879.2,-198.6 892.1,-200.3 905.0,-202.0"/><polyline points="38.8,74.8 55.8,69.5 72.7,64.2 89.5,59.0 106.2,53.9 122.8,49.0 139.3,44.1 155.7,39.4 172.0,34.7 188.2,30.1 204.3,25.7 220.3,21.3 236.3,17.0 252.1,12.8 267.8,8.7 283.5,4.6 299.1,0.7 314.6,-3.2 330.0,-6.9 345.3,-10.6 360.6,-14.3 375.7,-17.8 390.8,-21.3 405.9,-24.7 420.8,-28.0 435.7,-31.2 450.5,-34.4 465.2,-37.5 479.9,-40.5 494.5,-43.5 509.0,-46.4 523.5,-49.2 537.9,-52.0 552.2,-54.7 566.5,-57.3 580.7,-59.9 594.8,-62.4 608.9,-64.9 622.9,-67.3 636.9,-69.6 650.8,-71.9 664.7,-74.1 678.4,-76.3 692.2,-78.4 705.9,-80.5 719.5,-82.5 733.1,-84.4 746.6,-86.3 760.1,-88.2 773.5,-89.9 786.9,-91.7 800.2,-93.4 813.4,-95.0 826.7,-96.6 839.8,-98.2 853.0,-99.7 866.0,-101.1 879.1,-102.5 892.1,-103.9 905.0,-105.2"/><polyline points="38.8,155.4 55.7,150.5 72.5,145.8 89.2,141.1 105.8,136.6 122.3,132.2 138.7,127.8 155.0,123.6 171.2,119.4 187.4,115.4 203.4,111.4 219.3,107.5 235.2,103.7 251.0,100.0 266.7,96.3 282.3,92.8 297.8,89.3 313.3,85.9 328.7,82.6 344.0,79.3 359.2,76.1 374.4,73.0 389.4,70.0 404.5,67.1 419.4,64.2 434.3,61.4 449.1,58.6 463.8,56.0 478.5,53.3 493.1,50.8 507.6,48.3 522.1,45.9 536.5,43.5 550.9,41.2 565.1,39.0 579.4,36.8 593.5,34.7 607.7,32.7 621.7,30.7 635.7,28.7 649.7,26.8 663.6,25.0 677.4,23.2 691.2,21.5 704.9,19.8 718.6,18.2 732.2,16.6 745.8,15.1 759.3,13.6 772.8,12.2 786.2,10.8 799.6,9.5 812.9,8.2 826.2,7.0 839.5,5.8 852.7,4.6 865.8,3.5 878.9,2.5 892.0,1.5 905.0,0.5"/><polyline points="38.8,251.1 55.6,246.9 72.2,242.7 88.8,238.7 105.3,234.8 121.7,230.9 138.0,227.1 154.2,223.5 170.4,219.9 186.4,216.4 202.4,212.9 218.3,209.6 234.1,206.3 249.8,203.1 265.4,200.0 281.0,197.0 296.5,194.0 311.9,191.2 327.3,188.4 342.5,185.6 357.7,183.0 372.9,180.4 387.9,177.8 402.9,175.4 417.8,173.0 432.7,170.6 447.5,168.4 462.2,166.2 476.9,164.0 491.5,162.0 506.1,160.0 520.6,158.0 535.0,156.1 549.4,154.3 563.7,152.5 577.9,150.8 592.1,149.1 606.3,147.5 620.4,145.9 634.4,144.4 648.4,143.0 662.4,141.6 676.2,140.2 690.1,138.9 703.9,137.7 717.6,136.5 731.3,135.3 744.9,134.2 758.5,133.1 772.0,132.1 785.5,131.2 799.0,130.3 812.4,129.4 825.7,128.6 839.1,127.8 852.3,127.0 865.6,126.3 878.8,125.7 891.9,125.1 905.0,124.5"/><polyline points="38.8,321.8 55.5,318.0 72.1,314.2 88.6,310.6 105.0,307.1 121.3,303.6 137.6,300.3 153.7,297.0 169.8,293.8 185.8,290.7 201.7,287.6 217.5,284.6 233.3,281.8 249.0,279.0 264.6,276.2 280.1,273.6 295.6,271.0 311.0,268.4 326.3,266.0 341.5,263.6 356.7,261.3 371.8,259.1 386.9,256.9 401.9,254.8 416.8,252.7 431.6,250.7 446.4,248.8 461.2,246.9 475.9,245.1 490.5,243.4 505.0,241.7 519.5,240.1 534.0,238.5 548.4,237.0 562.7,235.5 577.0,234.1 591.2,232.7 605.4,231.4 619.5,230.2 633.5,229.0 647.6,227.8 661.5,226.7 675.4,225.7 689.3,224.7 703.1,223.7 716.9,222.8 730.6,222.0 744.3,221.2 757.9,220.4 771.5,219.7 785.1,219.0 798.6,218.4 812.0,217.8 825.4,217.3 838.8,216.8 852.1,216.3 865.4,215.9 878.6,215.5 891.8,215.2 905.0,214.9"/><polyline points="38.8,378.1 55.4,374.6 71.9,371.2 88.4,367.9 104.7,364.7 121.0,361.6 137.2,358.5 153.3,355.5 169.3,352.6 185.3,349.8 201.2,347.0 217.0,344.4 232.7,341.8 248.4,339.2 263.9,336.8 279.4,334.4 294.9,332.1 310.2,329.9 325.5,327.7 340.8,325.6 356.0,323.5 371.1,321.6 386.1,319.6 401.1,317.8 416.0,316.0 430.9,314.3 445.6,312.6 460.4,311.0 475.1,309.4 489.7,307.9 504.2,306.5 518.7,305.1 533.2,303.8 547.6,302.5 561.9,301.3 576.2,300.1 590.5,299.0 604.7,298.0 618.8,297.0 632.9,296.0 646.9,295.1 660.9,294.2 674.8,293.4 688.7,292.6 702.6,291.9 716.4,291.2 730.1,290.6 743.8,290.0 757.5,289.5 771.1,289.0 784.7,288.5 798.2,288.1 811.7,287.8 825.2,287.4 838.6,287.2 851.9,286.9 865.3,286.7 878.5,286.5 891.8,286.4 905.0,286.3"/><polyline points="38.8,425.2 55.4,421.9 71.8,418.8 88.2,415.7 104.6,412.8 120.8,409.9 136.9,407.0 153.0,404.3 169.0,401.6 184.9,399.1 200.8,396.6 216.5,394.1 232.2,391.8 247.9,389.5 263.4,387.2 278.9,385.1 294.3,383.0 309.7,381.0 325.0,379.0 340.2,377.1 355.3,375.3 370.4,373.6 385.5,371.9 400.4,370.2 415.4,368.6 430.2,367.1 445.0,365.7 459.7,364.3 474.4,362.9 489.0,361.6 503.6,360.4 518.1,359.2 532.6,358.1 547.0,357.0 561.3,356.0 575.6,355.0 589.9,354.1 604.1,353.2 618.3,352.4 632.4,351.6 646.4,350.9 660.4,350.2 674.4,349.6 688.3,349.0 702.2,348.5 716.0,348.0 729.7,347.6 743.5,347.2 757.2,346.8 770.8,346.5 784.4,346.2 798.0,346.0 811.5,345.8 825.0,345.6 838.4,345.5 851.8,345.5 865.2,345.4 878.5,345.5 891.8,345.5 905.0,345.6"/><polyline points="38.8,501.2 55.3,498.3 71.7,495.6 88.0,492.9 104.3,490.4 120.4,487.8 136.5,485.4 152.5,483.1 168.5,480.8 184.3,478.6 200.1,476.4 215.9,474.4 231.5,472.3 247.1,470.4 262.6,468.6 278.1,466.8 293.5,465.0 308.8,463.3 324.1,461.7 339.3,460.2 354.4,458.7 369.5,457.3 384.5,455.9 399.5,454.6 414.4,453.4 429.2,452.2 444.0,451.0 458.8,449.9 473.4,448.9 488.1,448.0 502.7,447.0 517.2,446.2 531.6,445.3 546.1,444.6 560.4,443.9 574.7,443.2 589.0,442.6 603.2,442.0 617.4,441.5 631.5,441.0 645.6,440.6 659.7,440.2 673.6,439.9 687.6,439.6 701.5,439.4 715.3,439.2 729.2,439.0 742.9,438.9 756.6,438.8 770.3,438.8 784.0,438.8 797.6,438.8 811.1,438.9 824.7,439.1 838.2,439.2 851.6,439.4 865.0,439.7 878.4,440.0 891.7,440.3 905.0,440.6"/><polyline points="38.8,561.6 55.2,559.1 71.6,556.7 87.8,554.3 104.0,552.0 120.2,549.8 136.2,547.7 152.2,545.6 168.1,543.6 183.9,541.7 199.7,539.8 215.4,538.0 231.0,536.3 246.6,534.6 262.0,533.1 277.5,531.5 292.9,530.1 308.2,528.7 323.4,527.3 338.6,526.0 353.7,524.8 368.8,523.6 383.8,522.5 398.8,521.5 413.7,520.5 428.5,519.5 443.3,518.6 458.0,517.8 472.7,517.0 487.3,516.3 501.9,515.6 516.5,515.0 530.9,514.4 545.4,513.9 559.7,513.4 574.1,513.0 588.4,512.6 602.6,512.3 616.8,512.0 630.9,511.7 645.0,511.5 659.1,511.4 673.1,511.3 687.1,511.2 701.0,511.2 714.9,511.2 728.7,511.3 742.5,511.4 756.3,511.5 770.0,511.7 783.6,511.9 797.3,512.2 810.9,512.5 824.4,512.8 838.0,513.2 851.4,513.6 864.9,514.1 878.3,514.6 891.7,515.1 905.0,515.6"/><polyline points="38.8,612.0 55.2,609.7 71.5,607.5 87.7,605.4 103.9,603.4 119.9,601.4 135.9,599.5 151.9,597.7 167.8,595.9 183.6,594.2 199.3,592.6 215.0,591.0 230.6,589.5 246.1,588.1 261.6,586.7 277.0,585.4 292.4,584.1 307.6,582.9 322.9,581.8 338.1,580.7 353.2,579.7 368.2,578.7 383.2,577.8 398.2,577.0 413.1,576.2 427.9,575.5 442.7,574.8 457.5,574.1 472.1,573.5 486.8,573.0 501.4,572.5 515.9,572.1 530.4,571.7 544.8,571.4 559.2,571.1 573.5,570.8 587.8,570.7 602.1,570.5 616.3,570.4 630.4,570.3 644.6,570.3 658.6,570.4 672.7,570.4 686.6,570.5 700.6,570.7 714.5,570.9 728.3,571.1 742.2,571.4 755.9,571.7 769.7,572.1 783.4,572.5 797.0,572.9 810.7,573.4 824.3,573.9 837.8,574.5 851.3,575.0 864.8,575.7 878.2,576.3 891.6,577.0 905.0,577.8"/><polyline points="38.8,655.3 55.1,653.2 71.4,651.2 87.6,649.3 103.7,647.4 119.8,645.7 135.7,644.0 151.6,642.3 167.5,640.7 183.3,639.2 199.0,637.8 214.6,636.4 230.2,635.1 245.7,633.8 261.2,632.7 276.6,631.5 291.9,630.5 307.2,629.4 322.4,628.5 337.6,627.6 352.7,626.7 367.8,626.0 382.8,625.2 397.7,624.6 412.6,623.9 427.4,623.4 442.2,622.8 457.0,622.4 471.7,621.9 486.3,621.6 500.9,621.3 515.4,621.0 529.9,620.8 544.3,620.6 558.7,620.5 573.1,620.4 587.4,620.3 601.7,620.3 615.9,620.4 630.0,620.5 644.2,620.6 658.3,620.8 672.3,621.0 686.3,621.3 700.3,621.6 714.2,622.0 728.0,622.3 741.9,622.8 755.7,623.2 769.4,623.7 783.2,624.3 796.8,624.9 810.5,625.5 824.1,626.1 837.7,626.8 851.2,627.6 864.7,628.3 878.2,629.1 891.6,630.0 905.0,630.8"/><polyline points="38.8,710.6 55.1,708.8 71.3,707.1 87.5,705.4 103.5,703.8 119.5,702.3 135.5,700.8 151.4,699.4 167.2,698.1 182.9,696.8 198.6,695.6 214.2,694.5 229.8,693.4 245.3,692.4 260.7,691.4 276.1,690.5 291.4,689.6 306.7,688.8 321.9,688.1 337.1,687.4 352.2,686.8 367.2,686.2 382.2,685.7 397.1,685.3 412.0,684.8 426.9,684.5 441.6,684.2 456.4,683.9 471.1,683.7 485.7,683.5 500.3,683.4 514.8,683.4 529.3,683.3 543.8,683.4 558.2,683.4 572.5,683.5 586.9,683.7 601.1,683.9 615.4,684.1 629.5,684.4 643.7,684.8 657.8,685.1 671.8,685.5 685.9,686.0 699.8,686.5 713.8,687.0 727.7,687.6 741.5,688.2 755.4,688.9 769.2,689.5 782.9,690.3 796.6,691.0 810.3,691.8 823.9,692.7 837.5,693.5 851.1,694.4 864.6,695.4 878.1,696.4 891.6,697.4 905.0,698.4"/><polyline points="38.8,757.7 55.1,756.1 71.2,754.6 87.3,753.1 103.4,751.7 119.4,750.4 135.3,749.1 151.1,747.9 166.9,746.8 182.6,745.7 198.3,744.7 213.9,743.8 229.4,742.9 244.9,742.0 260.3,741.3 275.7,740.5 291.0,739.9 306.3,739.3 321.5,738.7 336.6,738.2 351.7,737.8 366.7,737.4 381.7,737.0 396.7,736.8 411.5,736.5 426.4,736.3 441.2,736.2 455.9,736.1 470.6,736.1 485.2,736.1 499.8,736.1 514.4,736.2 528.9,736.4 543.3,736.5 557.7,736.8 572.1,737.1 586.4,737.4 600.7,737.7 614.9,738.1 629.1,738.6 643.3,739.1 657.4,739.6 671.5,740.2 685.5,740.8 699.5,741.4 713.5,742.1 727.4,742.9 741.3,743.6 755.1,744.4 768.9,745.3 782.7,746.1 796.4,747.0 810.1,748.0 823.8,749.0 837.4,750.0 851.0,751.0 864.5,752.1 878.1,753.3 891.5,754.4 905.0,755.6"/><polyline points="38.8,772.0 55.0,770.5 71.2,769.0 87.3,767.6 103.3,766.2 119.3,765.0 135.2,763.8 151.1,762.6 166.8,761.5 182.5,760.5 198.2,759.6 213.8,758.7 229.3,757.8 244.8,757.1 260.2,756.4 275.6,755.7 290.9,755.1 306.1,754.5 321.3,754.0 336.5,753.6 351.6,753.2 366.6,752.9 381.6,752.6 396.5,752.3 411.4,752.2 426.2,752.0 441.0,751.9 455.7,751.9 470.4,751.9 485.1,752.0 499.7,752.1 514.2,752.2 528.7,752.4 543.2,752.6 557.6,752.9 572.0,753.2 586.3,753.6 600.6,754.0 614.8,754.5 629.0,755.0 643.2,755.5 657.3,756.1 671.4,756.7 685.4,757.4 699.4,758.0 713.4,758.8 727.3,759.6 741.2,760.4 755.0,761.2 768.8,762.1 782.6,763.0 796.4,764.0 810.1,765.0 823.7,766.0 837.4,767.1 850.9,768.1 864.5,769.3 878.0,770.4 891.5,771.6 905.0,772.9"/></g>
</g><g clip-path="url(#cr)" stroke="#a6a6a6" stroke-width="0.9"><line x1="-1230.9" y1="1097.1" x2="-168.3" y2="36.9"/><line x1="-1093.5" y1="1041.9" x2="-30.9" y2="-18.3"/><line x1="-963.6" y1="994.2" x2="98.9" y2="-66.0"/><line x1="-840.2" y1="953.0" x2="222.3" y2="-107.2"/><line x1="-722.4" y1="917.3" x2="340.2" y2="-142.9"/><line x1="-609.4" y1="886.4" x2="453.1" y2="-173.8"/><line x1="-500.7" y1="859.8" x2="561.8" y2="-200.3"/><line x1="-395.8" y1="837.1" x2="666.7" y2="-223.1"/><line x1="-294.3" y1="817.7" x2="768.2" y2="-242.5"/><line x1="-195.9" y1="801.3" x2="866.7" y2="-258.8"/><line x1="-100.2" y1="787.8" x2="962.3" y2="-272.4"/><line x1="-7.0" y1="776.7" x2="1055.5" y2="-283.5"/><line x1="83.8" y1="767.9" x2="1146.4" y2="-292.3"/><line x1="172.6" y1="761.2" x2="1235.2" y2="-299.0"/><line x1="259.5" y1="756.4" x2="1322.0" y2="-303.8"/><line x1="344.6" y1="753.4" x2="1407.1" y2="-306.8"/><line x1="509.9" y1="752.2" x2="1572.5" y2="-308.0"/><line x1="590.4" y1="753.7" x2="1653.0" y2="-306.4"/><line x1="669.6" y1="756.6" x2="1732.1" y2="-303.5"/><line x1="747.5" y1="760.7" x2="1810.1" y2="-299.4"/><line x1="824.3" y1="766.0" x2="1886.8" y2="-294.1"/><line x1="899.9" y1="772.4" x2="1962.5" y2="-287.8"/></g><g clip-path="url(#c)">
<line x1="894.7" y1="286.9" x2="428.0" y2="752.0" stroke="#6f6fe8" stroke-width="1" stroke-dasharray="10 5"/>
<polyline points="38.8,341.6 55.5,337.9 72.0,334.3 88.5,330.8 104.9,327.4 121.2,324.1 137.4,320.8 153.6,317.6 169.6,314.5 185.6,311.5 201.5,308.6 217.3,305.7 233.1,302.9 248.7,300.2 264.3,297.6 279.9,295.0 295.3,292.5 310.7,290.1 326.0,287.8 341.3,285.5 356.4,283.3 371.6,281.1 386.6,279.0 401.6,277.0 416.5,275.1 431.4,273.2 446.2,271.3 460.9,269.5 475.6,267.8 490.2,266.2 504.7,264.6 519.3,263.0 533.7,261.5 548.1,260.1 562.4,258.7 576.7,257.4 590.9,256.1 605.1,254.9 619.2,253.8 633.3,252.7 647.3,251.6 661.3,250.6 675.2,249.6 689.1,248.7 702.9,247.8 716.7,247.0 730.4,246.2 744.1,245.5 757.8,244.8 771.4,244.2 784.9,243.6 798.4,243.0 811.9,242.5 825.3,242.1 838.7,241.6 852.0,241.3 865.3,240.9 878.6,240.6 891.8,240.4 905.0,240.1" fill="none" stroke="#e47272" stroke-width="1" stroke-dasharray="10.5 5.5"/>
<polyline points="581.3,796.2 561.9,741.2 431.7,285.7 995.2,-276.6" fill="none" stroke="#858585" stroke-width="1.5"/>
</g>
<g transform="translate(467.3,713.1) rotate(-45.00)"><rect x="-1" y="-2.9" width="77.7" height="5.8" rx="2.9" fill="url(#gr)"/></g>
<path d="M456.0,745.7 C455.8,745.2 454.8,742.9 454.5,741.8 C454.2,740.7 453.2,738.1 453.1,736.8 C453.0,735.5 453.1,732.3 453.5,730.9 C453.9,729.5 456.1,726.5 456.4,725.0 C456.7,723.5 457.0,719.7 456.4,718.0 C455.8,716.3 452.7,712.9 451.5,711.1 C450.3,709.3 447.4,705.1 446.5,703.2 C445.6,701.3 444.2,696.9 443.6,695.2 C443.0,693.5 442.4,691.2 441.6,689.3 C440.8,687.4 437.8,681.3 436.6,679.4 C435.4,677.5 433.1,674.1 431.7,673.1 C430.3,672.1 428.3,671.7 425.3,670.7 C422.3,669.7 412.1,665.5 406.7,664.5 C401.3,663.5 388.0,662.6 380.0,662.1 C372.0,661.6 349.6,660.5 340.0,660.0 C330.4,659.5 307.5,658.3 300.0,657.9 C292.5,657.5 280.2,657.4 277.3,656.5 C274.4,655.6 276.0,652.0 276.0,650.7 C276.0,649.4 277.0,646.9 277.3,645.3 C277.6,643.7 278.0,638.7 278.7,637.3 C279.4,635.9 278.7,637.3 283.5,633.8 C288.3,630.3 309.2,613.6 318.7,608.3 C328.2,603.0 356.9,592.6 362.7,590.0 C368.5,587.4 364.0,588.1 366.7,586.7 C369.4,585.3 381.5,580.8 385.3,578.7 C389.1,576.6 395.8,571.9 398.7,569.3 C401.6,566.7 407.5,560.2 409.3,557.3 C411.1,554.4 413.5,548.0 414.1,545.3 C414.7,542.6 414.7,537.1 414.1,534.7 C413.5,532.3 411.1,527.5 409.3,525.3 C407.5,523.1 401.9,518.2 398.7,516.0 C395.5,513.8 386.5,508.8 382.7,506.7 C378.9,504.6 370.4,500.2 366.7,498.1 C363.0,496.0 354.0,491.5 352.0,489.3 C350.0,487.1 350.0,481.4 349.7,479.8 C349.4,478.2 348.1,477.3 349.7,475.7 C351.3,474.1 360.0,468.6 363.3,466.2 C366.6,463.8 374.5,458.1 376.9,455.3 C379.3,452.5 384.0,445.3 383.7,442.5 C383.4,439.7 377.0,435.1 374.2,432.2 C371.4,429.3 363.9,421.9 360.6,418.6 C357.3,415.3 350.3,408.3 347.0,405.0 C343.7,401.7 336.3,394.2 333.4,391.4 C330.5,388.6 324.6,384.3 322.5,381.9 C320.4,379.5 317.0,373.9 315.7,371.1 C314.4,368.3 312.4,362.1 311.6,358.8 C310.8,355.5 310.0,347.5 308.9,343.9 C307.8,340.3 304.7,332.8 302.1,328.9 C299.5,325.0 290.0,315.2 287.2,311.3 C284.4,307.4 279.9,298.9 279.0,296.3 C278.1,293.7 279.2,292.5 279.5,289.9 C279.8,287.3 280.6,277.7 281.3,274.7 C282.0,271.7 283.9,267.9 285.3,265.3 C286.7,262.7 291.2,256.2 293.3,253.3 C295.4,250.4 300.3,244.5 302.7,241.3 C305.1,238.1 310.9,230.2 313.3,226.7 C315.7,223.2 320.7,215.0 322.7,212.0 C324.7,209.0 328.6,204.8 329.9,201.9 C331.2,199.0 332.2,191.6 333.3,188.0 C334.4,184.4 337.3,175.8 338.7,172.0 C340.1,168.2 343.7,159.2 345.3,156.0 C346.9,152.8 350.1,148.0 352.0,145.3 C353.9,142.6 346.7,150.7 361.3,133.3 C375.9,115.9 460.2,16.4 474.0,0.0 C487.8,-16.4 476.2,-2.6 476.5,-3.0" fill="none" stroke="#e00000" stroke-width="2.1" stroke-linejoin="round" stroke-linecap="round"/>
<path d="M471.3,746.3 C473.8,745.9 483.8,745.5 486.1,743.8 C488.4,742.0 486.6,738.6 485.1,735.8 C483.6,733.0 480.2,730.7 477.2,726.9 C474.2,723.1 470.3,717.2 467.3,713.1 C464.3,709.0 462.2,706.2 459.4,702.2 C456.6,698.2 453.0,693.1 450.5,689.3 C448.0,685.5 446.1,682.0 444.6,679.4 C443.1,676.8 442.2,675.3 441.6,673.5 C441.0,671.7 440.6,670.0 441.2,668.5 C441.8,667.0 443.1,665.9 445.5,664.6 C447.9,663.3 452.1,662.1 455.4,660.6 C458.7,659.1 463.0,657.2 465.3,655.6 C467.6,654.0 468.5,653.3 469.3,650.7 C470.1,648.1 469.8,643.3 470.3,639.8 C470.8,636.3 471.8,633.9 472.3,629.9 C472.8,625.9 472.5,621.0 473.3,616.0 C474.1,611.0 476.3,604.9 477.3,600.0 C478.3,595.1 479.3,590.2 479.5,586.7 C479.7,583.2 479.7,583.2 478.7,578.7 C477.7,574.2 475.1,565.8 473.3,560.0 C471.5,554.2 469.8,549.3 468.0,544.0 C466.2,538.7 464.5,533.8 462.7,528.0 C460.9,522.2 459.3,515.1 457.3,509.3 C455.3,503.5 452.9,498.2 450.7,493.3 C448.5,488.4 446.3,484.3 444.0,480.0 C441.7,475.7 439.7,472.5 436.7,467.5 C433.7,462.5 429.9,455.3 425.8,449.9 C421.7,444.5 416.3,440.1 412.2,434.9 C408.1,429.7 404.9,424.5 401.3,418.6 C397.7,412.7 393.9,405.9 390.5,399.6 C387.1,393.3 384.2,387.0 381.0,380.6 C377.8,374.2 373.7,366.5 371.4,361.5 C369.1,356.5 368.3,355.2 367.4,350.7 C366.5,346.2 366.0,339.4 366.0,334.4 C366.0,329.4 366.5,326.2 367.4,320.8 C368.3,315.4 369.8,307.1 371.4,301.7 C373.0,296.3 374.6,292.1 376.9,288.2 C379.2,284.3 381.7,281.7 385.3,278.1 C388.9,274.5 394.5,270.6 398.7,266.7 C402.9,262.8 406.3,258.5 410.7,254.7 C415.1,250.9 419.3,248.4 425.3,244.0 C431.3,239.6 438.7,234.0 446.7,228.0 C454.7,222.0 464.4,214.7 473.3,208.0 C482.2,201.3 490.9,194.7 500.0,188.0 C509.1,181.3 517.0,175.9 528.0,168.0 C539.0,160.1 555.3,150.1 566.0,140.8 C576.7,131.5 583.0,123.3 592.0,112.0 C601.0,100.7 608.7,86.3 620.0,72.8 C631.3,59.3 649.7,43.3 660.0,31.2 C670.3,19.1 678.0,5.7 682.0,0.0 C686.0,-5.7 683.7,-2.5 684.0,-3.0" fill="none" stroke="#000" stroke-width="2.4" stroke-linejoin="round" stroke-linecap="round"/>
<g stroke="#111" stroke-width="1.1" fill="none"><path d="M800,10.1 L788.7,23.3 M788.7,23.3 L780.2,21 M791.3,20.2 L782.8,18.3 M794,17 L785.5,15.2"/><path d="M804.2,216.4 L826.9,221.8 M826.9,221.8 L829.6,231.6 M823.4,221 L826.1,230.9 M819.9,220.2 L822.6,229.9 M816.4,219.3 L819.1,229 M811.8,218.3 L813.3,223.5"/><path d="M804.2,345.3 L822.8,348.1 M819.2,347.7 L821.1,352.2"/><path d="M822.2,348.2 L826.9,348.7 L825.3,356.7 Z" fill="#000" stroke="#000" stroke-width="0.6"/><path d="M820.7,242.5 L827.8,242.6 L827.3,250.7 Z" fill="#000" stroke="#000" stroke-width="0.6"/><path d="M804.1,438.3 L821.9,442.5"/><path d="M821.6,442.4 L826.6,443.3 L825,451 Z" fill="#000" stroke="#000" stroke-width="0.6"/><path d="M804.1,512.4 L826.6,518.6 M826.6,518.6 L828.1,529.4 M823.4,517.7 L824.9,528 M820.1,516.8 L821.6,527.3 M816.5,515.9 L817.8,521.3"/><path d="M801.6,625.1 L822.3,637.2 M822.3,637.2 L823.5,646.2 M819.9,635.8 L821.1,645"/><path d="M804.5,692.4 L824.9,699.1 M824.9,699.1 L828.8,706.9 M821.8,698.1 L824,702.6"/><path d="M804.1,721.7 L822.5,735.7 M822.5,735.7 L821.4,745.8"/><path d="M804.4,748.9 L825.3,757.8 L825.5,761"/></g>
<path d="M804.2,233.7 L812.6,242.2 L804.2,250.7 L795.8,242.2 Z" fill="none" stroke="#222" stroke-width="1"/>
<text x="804.2" y="246" font-size="10" text-anchor="middle" fill="#333" font-weight="bold">T</text>
<g font-size="10" fill="#111">
<text x="36" y="9.6" text-anchor="end">64170ft</text>
<text x="36" y="78.3" text-anchor="end">57875ft</text>
<text x="36" y="158.9" text-anchor="end">51020ft</text>
<text x="41" y="152.8" font-size="9.8" fill="#111">100<tspan fill="#333">[hPa]</tspan></text>
<text x="36" y="254.6" text-anchor="end">43055ft</text>
<text x="41" y="249.3" font-size="9.8" fill="#111">150<tspan fill="#333">[hPa]</tspan></text>
<text x="36" y="325.3" text-anchor="end">37385ft</text>
<text x="41" y="320.4" font-size="9.8" fill="#111">200<tspan fill="#333">[hPa]</tspan></text>
<text x="36" y="381.6" text-anchor="end">32985ft</text>
<text x="41" y="377.2" font-size="9.8" fill="#111">250<tspan fill="#333">[hPa]</tspan></text>
<text x="36" y="428.7" text-anchor="end">29280ft</text>
<text x="41" y="424.5" font-size="9.8" fill="#111">300<tspan fill="#333">[hPa]</tspan></text>
<text x="36" y="504.7" text-anchor="end">23105ft</text>
<text x="41" y="501.0" font-size="9.8" fill="#111">400<tspan fill="#333">[hPa]</tspan></text>
<text x="36" y="565.1" text-anchor="end">18005ft</text>
<text x="41" y="561.9" font-size="9.8" fill="#111">500<tspan fill="#333">[hPa]</tspan></text>
<text x="36" y="615.5" text-anchor="end">13640ft</text>
<text x="41" y="612.6" font-size="9.8" fill="#111">600<tspan fill="#333">[hPa]</tspan></text>
<text x="36" y="658.8" text-anchor="end">9840ft</text>
<text x="41" y="656.1" font-size="9.8" fill="#111">700<tspan fill="#333">[hPa]</tspan></text>
<text x="36" y="714.1" text-anchor="end">4980ft</text>
<text x="41" y="711.8" font-size="9.8" fill="#111">850<tspan fill="#333">[hPa]</tspan></text>
<text x="36" y="761.2" text-anchor="end">820ft</text>
<text x="41" y="759.1" font-size="9.8" fill="#111">1000<tspan fill="#333">[hPa]</tspan></text>
<text x="41" y="767.5" font-size="9.8" fill="#111">1050<tspan fill="#333">[hPa]</tspan></text>
<text x="797.2" y="10.5" font-size="9.8" fill="#111">100<tspan fill="#333">[hPa]</tspan></text>
<text x="87.2" y="768.4" text-anchor="middle">-40</text>
<text x="173.0" y="765.6" text-anchor="middle">-30</text>
<text x="259.9" y="760.8" text-anchor="middle">-20</text>
<text x="345.0" y="757.8" text-anchor="middle">-10</text>
<text x="428.4" y="756.4" text-anchor="middle">0</text>
<text x="510.3" y="756.6" text-anchor="middle">10</text>
<text x="590.8" y="758.1" text-anchor="middle">20</text>
<text x="670.0" y="761.0" text-anchor="middle">30</text>
<text x="747.9" y="765.1" text-anchor="middle">40</text>
<text x="824.7" y="768.4" text-anchor="middle">50</text>
<text x="898" y="47.1" text-anchor="end">-30</text>
<text x="898" y="129.0" text-anchor="end">-20</text>
<text x="898" y="210.9" text-anchor="end">-10</text>
<text x="898" y="374.6" text-anchor="end">10</text>
<text x="898" y="456.5" text-anchor="end">20</text>
<text x="898" y="538.4" text-anchor="end">30</text>
<text x="898" y="620.3" text-anchor="end">40</text>
<text x="898" y="702.1" text-anchor="end">50</text>
<text x="899.5" y="288.8" text-anchor="end">0</text>
<text transform="translate(93.1,767.1) rotate(-53.1)" dy="3.5" x="0.5">0.125</text>
<text transform="translate(155.1,762.3) rotate(-53.7)" dy="3.5" x="0.5">0.25</text>
<text transform="translate(220.3,758.3) rotate(-54.4)" dy="3.5" x="0.5">0.5</text>
<text transform="translate(289.2,755.1) rotate(-55.1)" dy="3.5" x="0.5">1</text>
<text transform="translate(362.1,753.0) rotate(-56.0)" dy="3.5" x="0.5">2</text>
<text transform="translate(439.4,751.9) rotate(-57.0)" dy="3.5" x="0.5">4</text>
<text transform="translate(521.6,752.3) rotate(-58.1)" dy="3.5" x="0.5">8</text>
<text transform="translate(609.2,754.3) rotate(-59.3)" dy="3.5" x="0.5">16</text>
<text transform="translate(702.9,758.2) rotate(-60.8)" dy="3.5" x="0.5">32</text>
<text transform="translate(803.4,764.5) rotate(-62.4)" dy="3.5" x="0.5">64</text>
<text transform="translate(626,152) rotate(45)" text-anchor="middle" dy="3.5">30</text>
<text transform="translate(470.7,307.2) rotate(45)" text-anchor="middle" dy="3.5">20</text>
<text transform="translate(361.9,417.3) rotate(45)" text-anchor="middle" dy="3.5">10</text>
<text transform="translate(280,493.9) rotate(45)" text-anchor="middle" dy="3.5">0</text>
<text transform="translate(220.4,560.7) rotate(45)" text-anchor="middle" dy="3.5">-10</text>
<text transform="translate(165.6,616.6) rotate(45)" text-anchor="middle" dy="3.5">-20</text>
<text transform="translate(114.4,667.3) rotate(45)" text-anchor="middle" dy="3.5">-30</text>
<text transform="translate(65,715) rotate(45)" text-anchor="middle" dy="3.5">-40</text>
</g>
<text x="896.5" y="11.5" font-size="10" fill="#dd5555">V</text>
<rect x="40" y="0.6" width="226.6" height="135" fill="#fff" stroke="#111" stroke-width="1.2"/>
<text x="41.6" y="17.6" font-size="13.2" font-weight="bold" fill="#111" textLength="97.4" lengthAdjust="spacingAndGlyphs">Sounding Indices</text>
<text x="43" y="33.8" font-size="11" fill="#000" stroke="#000" stroke-width="0.15" textLength="215.3" lengthAdjust="spacingAndGlyphs">UWC/IG 5km/11.02.2025 15:00/+3 h/04082</text>
<text x="43" y="49.7" font-size="11" fill="#000" stroke="#000" stroke-width="0.15">Position</text>
<text x="153.3" y="49.7" font-size="11" font-weight="bold" fill="#000">64°18'N 15°13'W</text>
<text x="43" y="65.7" font-size="11" fill="#000" stroke="#000" stroke-width="0.15">Elevation</text>
<text x="153.3" y="65.7" font-size="11" font-weight="bold" fill="#000">50ft</text>
<text x="43" y="81.7" font-size="11" fill="#000" stroke="#000" stroke-width="0.15">Name</text>
<text x="153.3" y="81.7" font-size="11" font-weight="bold" fill="#000">Akurnes</text>
<text x="43" y="97.7" font-size="11" fill="#000" stroke="#000" stroke-width="0.15">Zero Degree (A)</text>
<text x="153.3" y="97.7" font-size="11" font-weight="bold" fill="#000">2560ft</text>
<text x="43" y="113.7" font-size="11" fill="#000" stroke="#000" stroke-width="0.15">TH850</text>
<text x="153.3" y="113.7" font-size="11" font-weight="bold" fill="#000">4160ft</text>
<text x="43" y="129.7" font-size="11" fill="#000" stroke="#000" stroke-width="0.15">TH500</text>
<text x="153.3" y="129.7" font-size="11" font-weight="bold" fill="#000">17185ft</text>
<text x="266.6" y="10.5" font-size="10" fill="#555">[hPa]</text>
</svg>
</body></html>
